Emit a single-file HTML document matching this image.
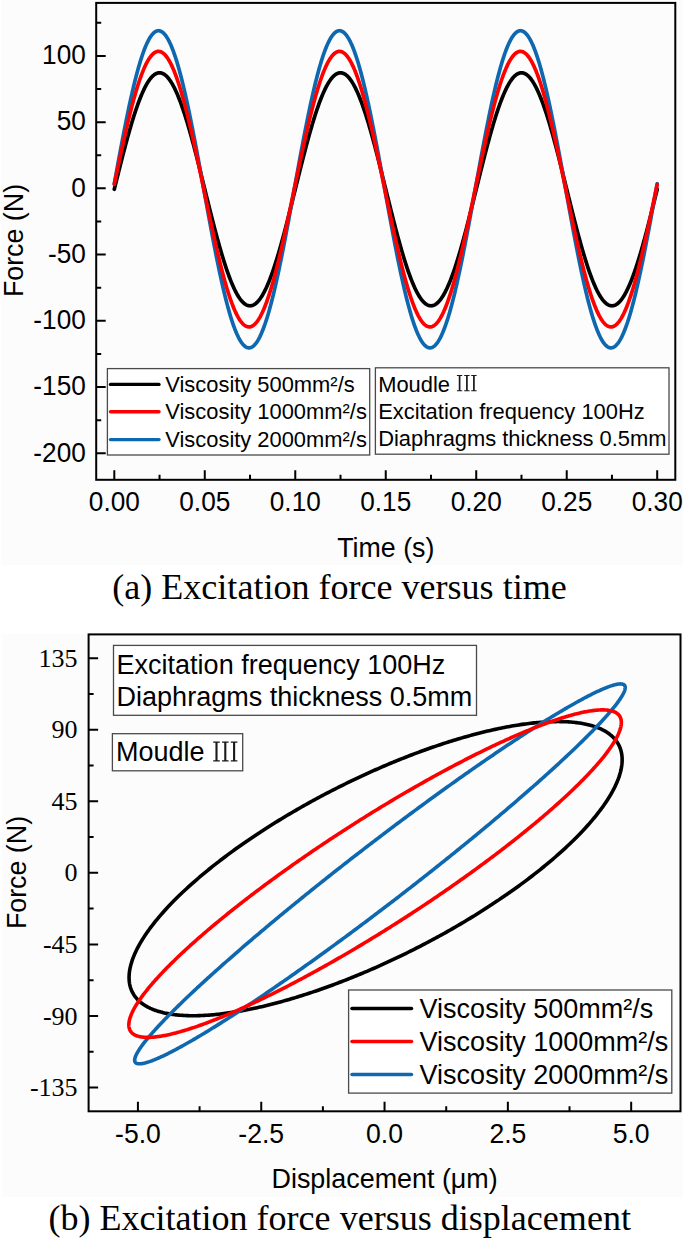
<!DOCTYPE html>
<html><head><meta charset="utf-8"><title>Excitation force</title>
<style>
html,body{margin:0;padding:0;background:#fff;}
body{width:685px;height:1240px;overflow:hidden;font-family:"Liberation Sans",sans-serif;}
svg{display:block;}
</style></head><body>
<svg width="685" height="1240" viewBox="0 0 685 1240">
<rect x="1" y="0" width="682" height="565" fill="#fcfcfc"/>
<rect x="2" y="634" width="681" height="563" fill="#fcfcfc"/>
<path d="M114.3,189.29 L114.9,186.85 L115.5,184.41 L116.11,181.97 L116.71,179.54 L117.31,177.11 L117.92,174.69 L118.52,172.27 L119.12,169.86 L119.73,167.46 L120.33,165.06 L120.93,162.68 L121.54,160.31 L122.14,157.96 L122.74,155.61 L123.35,153.29 L123.95,150.97 L124.55,148.68 L125.16,146.4 L125.76,144.14 L126.36,141.9 L126.96,139.68 L127.57,137.48 L128.17,135.31 L128.77,133.16 L129.38,131.03 L129.98,128.93 L130.58,126.86 L131.19,124.81 L131.79,122.79 L132.39,120.81 L133,118.85 L133.6,116.92 L134.2,115.02 L134.81,113.16 L135.41,111.33 L136.01,109.53 L136.62,107.77 L137.22,106.05 L137.82,104.36 L138.43,102.71 L139.03,101.09 L139.63,99.52 L140.24,97.98 L140.84,96.49 L141.44,95.03 L142.05,93.62 L142.65,92.25 L143.25,90.92 L143.86,89.63 L144.46,88.39 L145.06,87.19 L145.66,86.04 L146.27,84.93 L146.87,83.87 L147.47,82.85 L148.08,81.88 L148.68,80.96 L149.28,80.09 L149.89,79.26 L150.49,78.48 L151.09,77.75 L151.7,77.07 L152.3,76.44 L152.9,75.86 L153.51,75.33 L154.11,74.84 L154.71,74.41 L155.32,74.03 L155.92,73.7 L156.52,73.42 L157.13,73.19 L157.73,73.01 L158.33,72.88 L158.94,72.8 L159.54,72.78 L160.14,72.8 L160.75,72.88 L161.35,73.01 L161.95,73.19 L162.56,73.42 L163.16,73.7 L163.76,74.03 L164.36,74.41 L164.97,74.84 L165.57,75.33 L166.17,75.86 L166.78,76.44 L167.38,77.07 L167.98,77.75 L168.59,78.48 L169.19,79.26 L169.79,80.09 L170.4,80.96 L171,81.88 L171.6,82.85 L172.21,83.87 L172.81,84.93 L173.41,86.04 L174.02,87.19 L174.62,88.39 L175.22,89.63 L175.83,90.92 L176.43,92.25 L177.03,93.62 L177.64,95.03 L178.24,96.49 L178.84,97.98 L179.45,99.52 L180.05,101.09 L180.65,102.71 L181.26,104.36 L181.86,106.05 L182.46,107.77 L183.06,109.53 L183.67,111.33 L184.27,113.16 L184.87,115.02 L185.48,116.92 L186.08,118.85 L186.68,120.81 L187.29,122.79 L187.89,124.81 L188.49,126.86 L189.1,128.93 L189.7,131.03 L190.3,133.16 L190.91,135.31 L191.51,137.48 L192.11,139.68 L192.72,141.9 L193.32,144.14 L193.92,146.4 L194.53,148.68 L195.13,150.97 L195.73,153.29 L196.34,155.61 L196.94,157.96 L197.54,160.31 L198.15,162.68 L198.75,165.06 L199.35,167.46 L199.96,169.86 L200.56,172.27 L201.16,174.69 L201.77,177.11 L202.37,179.54 L202.97,181.97 L203.57,184.41 L204.18,186.85 L204.78,189.29 L205.38,191.73 L205.99,194.17 L206.59,196.6 L207.19,199.04 L207.8,201.47 L208.4,203.89 L209,206.31 L209.61,208.72 L210.21,211.12 L210.81,213.51 L211.42,215.89 L212.02,218.26 L212.62,220.62 L213.23,222.96 L213.83,225.29 L214.43,227.6 L215.04,229.9 L215.64,232.18 L216.24,234.44 L216.85,236.68 L217.45,238.9 L218.05,241.09 L218.66,243.27 L219.26,245.42 L219.86,247.54 L220.47,249.64 L221.07,251.72 L221.67,253.76 L222.27,255.78 L222.88,257.77 L223.48,259.73 L224.08,261.66 L224.69,263.55 L225.29,265.42 L225.89,267.25 L226.5,269.04 L227.1,270.81 L227.7,272.53 L228.31,274.22 L228.91,275.87 L229.51,277.49 L230.12,279.06 L230.72,280.6 L231.32,282.09 L231.93,283.55 L232.53,284.96 L233.13,286.33 L233.74,287.66 L234.34,288.95 L234.94,290.19 L235.55,291.39 L236.15,292.54 L236.75,293.65 L237.36,294.71 L237.96,295.72 L238.56,296.69 L239.17,297.62 L239.77,298.49 L240.37,299.32 L240.97,300.1 L241.58,300.83 L242.18,301.51 L242.78,302.14 L243.39,302.72 L243.99,303.25 L244.59,303.73 L245.2,304.17 L245.8,304.55 L246.4,304.88 L247.01,305.16 L247.61,305.39 L248.21,305.57 L248.82,305.7 L249.42,305.77 L250.02,305.8 L250.63,305.77 L251.23,305.7 L251.83,305.57 L252.44,305.39 L253.04,305.16 L253.64,304.88 L254.25,304.55 L254.85,304.17 L255.45,303.73 L256.06,303.25 L256.66,302.72 L257.26,302.14 L257.87,301.51 L258.47,300.83 L259.07,300.1 L259.68,299.32 L260.28,298.49 L260.88,297.62 L261.48,296.69 L262.09,295.72 L262.69,294.71 L263.29,293.65 L263.9,292.54 L264.5,291.39 L265.1,290.19 L265.71,288.95 L266.31,287.66 L266.91,286.33 L267.52,284.96 L268.12,283.55 L268.72,282.09 L269.33,280.6 L269.93,279.06 L270.53,277.49 L271.14,275.87 L271.74,274.22 L272.34,272.53 L272.95,270.81 L273.55,269.04 L274.15,267.25 L274.76,265.42 L275.36,263.55 L275.96,261.66 L276.57,259.73 L277.17,257.77 L277.77,255.78 L278.38,253.76 L278.98,251.72 L279.58,249.64 L280.18,247.54 L280.79,245.42 L281.39,243.27 L281.99,241.09 L282.6,238.9 L283.2,236.68 L283.8,234.44 L284.41,232.18 L285.01,229.9 L285.61,227.6 L286.22,225.29 L286.82,222.96 L287.42,220.62 L288.03,218.26 L288.63,215.89 L289.23,213.51 L289.84,211.12 L290.44,208.72 L291.04,206.31 L291.65,203.89 L292.25,201.47 L292.85,199.04 L293.46,196.6 L294.06,194.17 L294.66,191.73 L295.27,189.29 L295.87,186.85 L296.47,184.41 L297.08,181.97 L297.68,179.54 L298.28,177.11 L298.88,174.69 L299.49,172.27 L300.09,169.86 L300.69,167.46 L301.3,165.06 L301.9,162.68 L302.5,160.31 L303.11,157.96 L303.71,155.61 L304.31,153.29 L304.92,150.97 L305.52,148.68 L306.12,146.4 L306.73,144.14 L307.33,141.9 L307.93,139.68 L308.54,137.48 L309.14,135.31 L309.74,133.16 L310.35,131.03 L310.95,128.93 L311.55,126.86 L312.16,124.81 L312.76,122.79 L313.36,120.81 L313.97,118.85 L314.57,116.92 L315.17,115.02 L315.78,113.16 L316.38,111.33 L316.98,109.53 L317.59,107.77 L318.19,106.05 L318.79,104.36 L319.39,102.71 L320,101.09 L320.6,99.52 L321.2,97.98 L321.81,96.49 L322.41,95.03 L323.01,93.62 L323.62,92.25 L324.22,90.92 L324.82,89.63 L325.43,88.39 L326.03,87.19 L326.63,86.04 L327.24,84.93 L327.84,83.87 L328.44,82.85 L329.05,81.88 L329.65,80.96 L330.25,80.09 L330.86,79.26 L331.46,78.48 L332.06,77.75 L332.67,77.07 L333.27,76.44 L333.87,75.86 L334.48,75.33 L335.08,74.84 L335.68,74.41 L336.29,74.03 L336.89,73.7 L337.49,73.42 L338.09,73.19 L338.7,73.01 L339.3,72.88 L339.9,72.8 L340.51,72.78 L341.11,72.8 L341.71,72.88 L342.32,73.01 L342.92,73.19 L343.52,73.42 L344.13,73.7 L344.73,74.03 L345.33,74.41 L345.94,74.84 L346.54,75.33 L347.14,75.86 L347.75,76.44 L348.35,77.07 L348.95,77.75 L349.56,78.48 L350.16,79.26 L350.76,80.09 L351.37,80.96 L351.97,81.88 L352.57,82.85 L353.18,83.87 L353.78,84.93 L354.38,86.04 L354.99,87.19 L355.59,88.39 L356.19,89.63 L356.79,90.92 L357.4,92.25 L358,93.62 L358.6,95.03 L359.21,96.49 L359.81,97.98 L360.41,99.52 L361.02,101.09 L361.62,102.71 L362.22,104.36 L362.83,106.05 L363.43,107.77 L364.03,109.53 L364.64,111.33 L365.24,113.16 L365.84,115.02 L366.45,116.92 L367.05,118.85 L367.65,120.81 L368.26,122.79 L368.86,124.81 L369.46,126.86 L370.07,128.93 L370.67,131.03 L371.27,133.16 L371.88,135.31 L372.48,137.48 L373.08,139.68 L373.69,141.9 L374.29,144.14 L374.89,146.4 L375.5,148.68 L376.1,150.97 L376.7,153.29 L377.3,155.61 L377.91,157.96 L378.51,160.31 L379.11,162.68 L379.72,165.06 L380.32,167.46 L380.92,169.86 L381.53,172.27 L382.13,174.69 L382.73,177.11 L383.34,179.54 L383.94,181.97 L384.54,184.41 L385.15,186.85 L385.75,189.29 L386.35,191.73 L386.96,194.17 L387.56,196.6 L388.16,199.04 L388.77,201.47 L389.37,203.89 L389.97,206.31 L390.58,208.72 L391.18,211.12 L391.78,213.51 L392.39,215.89 L392.99,218.26 L393.59,220.62 L394.2,222.96 L394.8,225.29 L395.4,227.6 L396,229.9 L396.61,232.18 L397.21,234.44 L397.81,236.68 L398.42,238.9 L399.02,241.09 L399.62,243.27 L400.23,245.42 L400.83,247.54 L401.43,249.64 L402.04,251.72 L402.64,253.76 L403.24,255.78 L403.85,257.77 L404.45,259.73 L405.05,261.66 L405.66,263.55 L406.26,265.42 L406.86,267.25 L407.47,269.04 L408.07,270.81 L408.67,272.53 L409.28,274.22 L409.88,275.87 L410.48,277.49 L411.09,279.06 L411.69,280.6 L412.29,282.09 L412.9,283.55 L413.5,284.96 L414.1,286.33 L414.7,287.66 L415.31,288.95 L415.91,290.19 L416.51,291.39 L417.12,292.54 L417.72,293.65 L418.32,294.71 L418.93,295.72 L419.53,296.69 L420.13,297.62 L420.74,298.49 L421.34,299.32 L421.94,300.1 L422.55,300.83 L423.15,301.51 L423.75,302.14 L424.36,302.72 L424.96,303.25 L425.56,303.73 L426.17,304.17 L426.77,304.55 L427.37,304.88 L427.98,305.16 L428.58,305.39 L429.18,305.57 L429.79,305.7 L430.39,305.77 L430.99,305.8 L431.6,305.77 L432.2,305.7 L432.8,305.57 L433.41,305.39 L434.01,305.16 L434.61,304.88 L435.21,304.55 L435.82,304.17 L436.42,303.73 L437.02,303.25 L437.63,302.72 L438.23,302.14 L438.83,301.51 L439.44,300.83 L440.04,300.1 L440.64,299.32 L441.25,298.49 L441.85,297.62 L442.45,296.69 L443.06,295.72 L443.66,294.71 L444.26,293.65 L444.87,292.54 L445.47,291.39 L446.07,290.19 L446.68,288.95 L447.28,287.66 L447.88,286.33 L448.49,284.96 L449.09,283.55 L449.69,282.09 L450.3,280.6 L450.9,279.06 L451.5,277.49 L452.11,275.87 L452.71,274.22 L453.31,272.53 L453.91,270.81 L454.52,269.04 L455.12,267.25 L455.72,265.42 L456.33,263.55 L456.93,261.66 L457.53,259.73 L458.14,257.77 L458.74,255.78 L459.34,253.76 L459.95,251.72 L460.55,249.64 L461.15,247.54 L461.76,245.42 L462.36,243.27 L462.96,241.09 L463.57,238.9 L464.17,236.68 L464.77,234.44 L465.38,232.18 L465.98,229.9 L466.58,227.6 L467.19,225.29 L467.79,222.96 L468.39,220.62 L469,218.26 L469.6,215.89 L470.2,213.51 L470.81,211.12 L471.41,208.72 L472.01,206.31 L472.61,203.89 L473.22,201.47 L473.82,199.04 L474.42,196.6 L475.03,194.17 L475.63,191.73 L476.23,189.29 L476.84,186.85 L477.44,184.41 L478.04,181.97 L478.65,179.54 L479.25,177.11 L479.85,174.69 L480.46,172.27 L481.06,169.86 L481.66,167.46 L482.27,165.06 L482.87,162.68 L483.47,160.31 L484.08,157.96 L484.68,155.61 L485.28,153.29 L485.89,150.97 L486.49,148.68 L487.09,146.4 L487.7,144.14 L488.3,141.9 L488.9,139.68 L489.51,137.48 L490.11,135.31 L490.71,133.16 L491.32,131.03 L491.92,128.93 L492.52,126.86 L493.12,124.81 L493.73,122.79 L494.33,120.81 L494.93,118.85 L495.54,116.92 L496.14,115.02 L496.74,113.16 L497.35,111.33 L497.95,109.53 L498.55,107.77 L499.16,106.05 L499.76,104.36 L500.36,102.71 L500.97,101.09 L501.57,99.52 L502.17,97.98 L502.78,96.49 L503.38,95.03 L503.98,93.62 L504.59,92.25 L505.19,90.92 L505.79,89.63 L506.4,88.39 L507,87.19 L507.6,86.04 L508.21,84.93 L508.81,83.87 L509.41,82.85 L510.02,81.88 L510.62,80.96 L511.22,80.09 L511.82,79.26 L512.43,78.48 L513.03,77.75 L513.63,77.07 L514.24,76.44 L514.84,75.86 L515.44,75.33 L516.05,74.84 L516.65,74.41 L517.25,74.03 L517.86,73.7 L518.46,73.42 L519.06,73.19 L519.67,73.01 L520.27,72.88 L520.87,72.8 L521.48,72.78 L522.08,72.8 L522.68,72.88 L523.29,73.01 L523.89,73.19 L524.49,73.42 L525.1,73.7 L525.7,74.03 L526.3,74.41 L526.91,74.84 L527.51,75.33 L528.11,75.86 L528.72,76.44 L529.32,77.07 L529.92,77.75 L530.52,78.48 L531.13,79.26 L531.73,80.09 L532.33,80.96 L532.94,81.88 L533.54,82.85 L534.14,83.87 L534.75,84.93 L535.35,86.04 L535.95,87.19 L536.56,88.39 L537.16,89.63 L537.76,90.92 L538.37,92.25 L538.97,93.62 L539.57,95.03 L540.18,96.49 L540.78,97.98 L541.38,99.52 L541.99,101.09 L542.59,102.71 L543.19,104.36 L543.8,106.05 L544.4,107.77 L545,109.53 L545.61,111.33 L546.21,113.16 L546.81,115.02 L547.42,116.92 L548.02,118.85 L548.62,120.81 L549.23,122.79 L549.83,124.81 L550.43,126.86 L551.03,128.93 L551.64,131.03 L552.24,133.16 L552.84,135.31 L553.45,137.48 L554.05,139.68 L554.65,141.9 L555.26,144.14 L555.86,146.4 L556.46,148.68 L557.07,150.97 L557.67,153.29 L558.27,155.61 L558.88,157.96 L559.48,160.31 L560.08,162.68 L560.69,165.06 L561.29,167.46 L561.89,169.86 L562.5,172.27 L563.1,174.69 L563.7,177.11 L564.31,179.54 L564.91,181.97 L565.51,184.41 L566.12,186.85 L566.72,189.29 L567.32,191.73 L567.93,194.17 L568.53,196.6 L569.13,199.04 L569.73,201.47 L570.34,203.89 L570.94,206.31 L571.54,208.72 L572.15,211.12 L572.75,213.51 L573.35,215.89 L573.96,218.26 L574.56,220.62 L575.16,222.96 L575.77,225.29 L576.37,227.6 L576.97,229.9 L577.58,232.18 L578.18,234.44 L578.78,236.68 L579.39,238.9 L579.99,241.09 L580.59,243.27 L581.2,245.42 L581.8,247.54 L582.4,249.64 L583.01,251.72 L583.61,253.76 L584.21,255.78 L584.82,257.77 L585.42,259.73 L586.02,261.66 L586.63,263.55 L587.23,265.42 L587.83,267.25 L588.43,269.04 L589.04,270.81 L589.64,272.53 L590.24,274.22 L590.85,275.87 L591.45,277.49 L592.05,279.06 L592.66,280.6 L593.26,282.09 L593.86,283.55 L594.47,284.96 L595.07,286.33 L595.67,287.66 L596.28,288.95 L596.88,290.19 L597.48,291.39 L598.09,292.54 L598.69,293.65 L599.29,294.71 L599.9,295.72 L600.5,296.69 L601.1,297.62 L601.71,298.49 L602.31,299.32 L602.91,300.1 L603.52,300.83 L604.12,301.51 L604.72,302.14 L605.33,302.72 L605.93,303.25 L606.53,303.73 L607.14,304.17 L607.74,304.55 L608.34,304.88 L608.94,305.16 L609.55,305.39 L610.15,305.57 L610.75,305.7 L611.36,305.77 L611.96,305.8 L612.56,305.77 L613.17,305.7 L613.77,305.57 L614.37,305.39 L614.98,305.16 L615.58,304.88 L616.18,304.55 L616.79,304.17 L617.39,303.73 L617.99,303.25 L618.6,302.72 L619.2,302.14 L619.8,301.51 L620.41,300.83 L621.01,300.1 L621.61,299.32 L622.22,298.49 L622.82,297.62 L623.42,296.69 L624.03,295.72 L624.63,294.71 L625.23,293.65 L625.84,292.54 L626.44,291.39 L627.04,290.19 L627.64,288.95 L628.25,287.66 L628.85,286.33 L629.45,284.96 L630.06,283.55 L630.66,282.09 L631.26,280.6 L631.87,279.06 L632.47,277.49 L633.07,275.87 L633.68,274.22 L634.28,272.53 L634.88,270.81 L635.49,269.04 L636.09,267.25 L636.69,265.42 L637.3,263.55 L637.9,261.66 L638.5,259.73 L639.11,257.77 L639.71,255.78 L640.31,253.76 L640.92,251.72 L641.52,249.64 L642.12,247.54 L642.73,245.42 L643.33,243.27 L643.93,241.09 L644.54,238.9 L645.14,236.68 L645.74,234.44 L646.34,232.18 L646.95,229.9 L647.55,227.6 L648.15,225.29 L648.76,222.96 L649.36,220.62 L649.96,218.26 L650.57,215.89 L651.17,213.51 L651.77,211.12 L652.38,208.72 L652.98,206.31 L653.58,203.89 L654.19,201.47 L654.79,199.04 L655.39,196.6 L656,194.17 L656.6,191.73 L657.2,189.29" fill="none" stroke="#000000" stroke-width="3.7" stroke-linejoin="round" stroke-linecap="round"/>
<path d="M114.3,183.74 L114.9,180.42 L115.5,177.11 L116.11,173.8 L116.71,170.5 L117.31,167.21 L117.92,163.92 L118.52,160.65 L119.12,157.39 L119.73,154.14 L120.33,150.91 L120.93,147.7 L121.54,144.5 L122.14,141.33 L122.74,138.17 L123.35,135.04 L123.95,131.93 L124.55,128.85 L125.16,125.79 L125.76,122.76 L126.36,119.76 L126.96,116.79 L127.57,113.86 L128.17,110.95 L128.77,108.08 L129.38,105.25 L129.98,102.45 L130.58,99.69 L131.19,96.97 L131.79,94.29 L132.39,91.65 L133,89.06 L133.6,86.51 L134.2,84 L134.81,81.54 L135.41,79.13 L136.01,76.76 L136.62,74.45 L137.22,72.18 L137.82,69.97 L138.43,67.81 L139.03,65.7 L139.63,63.65 L140.24,61.65 L140.84,59.71 L141.44,57.82 L142.05,55.99 L142.65,54.22 L143.25,52.51 L143.86,50.86 L144.46,49.27 L145.06,47.75 L145.66,46.28 L146.27,44.88 L146.87,43.54 L147.47,42.26 L148.08,41.05 L148.68,39.9 L149.28,38.82 L149.89,37.81 L150.49,36.86 L151.09,35.98 L151.7,35.16 L152.3,34.42 L152.9,33.74 L153.51,33.13 L154.11,32.58 L154.71,32.11 L155.32,31.71 L155.92,31.37 L156.52,31.1 L157.13,30.91 L157.73,30.78 L158.33,30.72 L158.94,30.73 L159.54,30.82 L160.14,30.97 L160.75,31.19 L161.35,31.48 L161.95,31.84 L162.56,32.26 L163.16,32.76 L163.76,33.33 L164.36,33.96 L164.97,34.66 L165.57,35.43 L166.17,36.27 L166.78,37.17 L167.38,38.15 L167.98,39.18 L168.59,40.29 L169.19,41.46 L169.79,42.69 L170.4,43.99 L171,45.35 L171.6,46.77 L172.21,48.26 L172.81,49.81 L173.41,51.42 L174.02,53.09 L174.62,54.82 L175.22,56.61 L175.83,58.46 L176.43,60.36 L177.03,62.33 L177.64,64.34 L178.24,66.42 L178.84,68.54 L179.45,70.72 L180.05,72.95 L180.65,75.23 L181.26,77.57 L181.86,79.95 L182.46,82.38 L183.06,84.85 L183.67,87.37 L184.27,89.94 L184.87,92.55 L185.48,95.2 L186.08,97.9 L186.68,100.63 L187.29,103.4 L187.89,106.21 L188.49,109.06 L189.1,111.94 L189.7,114.86 L190.3,117.81 L190.91,120.79 L191.51,123.8 L192.11,126.83 L192.72,129.9 L193.32,132.99 L193.92,136.11 L194.53,139.25 L195.13,142.41 L195.73,145.6 L196.34,148.8 L196.94,152.02 L197.54,155.25 L198.15,158.5 L198.75,161.77 L199.35,165.04 L199.96,168.33 L200.56,171.63 L201.16,174.93 L201.77,178.24 L202.37,181.56 L202.97,184.88 L203.57,188.2 L204.18,191.52 L204.78,194.84 L205.38,198.15 L205.99,201.47 L206.59,204.78 L207.19,208.08 L207.8,211.37 L208.4,214.66 L209,217.93 L209.61,221.19 L210.21,224.43 L210.81,227.66 L211.42,230.88 L212.02,234.07 L212.62,237.25 L213.23,240.4 L213.83,243.54 L214.43,246.64 L215.04,249.73 L215.64,252.79 L216.24,255.81 L216.85,258.81 L217.45,261.78 L218.05,264.72 L218.66,267.63 L219.26,270.5 L219.86,273.33 L220.47,276.13 L221.07,278.89 L221.67,281.61 L222.27,284.29 L222.88,286.93 L223.48,289.52 L224.08,292.07 L224.69,294.58 L225.29,297.04 L225.89,299.45 L226.5,301.81 L227.1,304.13 L227.7,306.39 L228.31,308.61 L228.91,310.77 L229.51,312.88 L230.12,314.93 L230.72,316.93 L231.32,318.87 L231.93,320.76 L232.53,322.58 L233.13,324.35 L233.74,326.06 L234.34,327.71 L234.94,329.3 L235.55,330.83 L236.15,332.3 L236.75,333.7 L237.36,335.04 L237.96,336.32 L238.56,337.53 L239.17,338.67 L239.77,339.76 L240.37,340.77 L240.97,341.72 L241.58,342.6 L242.18,343.42 L242.78,344.16 L243.39,344.84 L243.99,345.45 L244.59,345.99 L245.2,346.47 L245.8,346.87 L246.4,347.21 L247.01,347.47 L247.61,347.67 L248.21,347.8 L248.82,347.85 L249.42,347.84 L250.02,347.76 L250.63,347.61 L251.23,347.39 L251.83,347.1 L252.44,346.74 L253.04,346.31 L253.64,345.82 L254.25,345.25 L254.85,344.62 L255.45,343.91 L256.06,343.14 L256.66,342.31 L257.26,341.4 L257.87,340.43 L258.47,339.39 L259.07,338.29 L259.68,337.12 L260.28,335.89 L260.88,334.59 L261.48,333.23 L262.09,331.8 L262.69,330.32 L263.29,328.77 L263.9,327.16 L264.5,325.49 L265.1,323.75 L265.71,321.97 L266.31,320.12 L266.91,318.21 L267.52,316.25 L268.12,314.23 L268.72,312.16 L269.33,310.04 L269.93,307.86 L270.53,305.63 L271.14,303.34 L271.74,301.01 L272.34,298.63 L272.95,296.2 L273.55,293.73 L274.15,291.2 L274.76,288.64 L275.36,286.03 L275.96,283.37 L276.57,280.68 L277.17,277.95 L277.77,275.17 L278.38,272.36 L278.98,269.52 L279.58,266.64 L280.18,263.72 L280.79,260.77 L281.39,257.79 L281.99,254.78 L282.6,251.74 L283.2,248.68 L283.8,245.58 L284.41,242.47 L285.01,239.33 L285.61,236.16 L286.22,232.98 L286.82,229.78 L287.42,226.56 L288.03,223.32 L288.63,220.07 L289.23,216.81 L289.84,213.53 L290.44,210.25 L291.04,206.95 L291.65,203.65 L292.25,200.33 L292.85,197.02 L293.46,193.7 L294.06,190.38 L294.66,187.06 L295.27,183.74 L295.87,180.42 L296.47,177.11 L297.08,173.8 L297.68,170.5 L298.28,167.21 L298.88,163.92 L299.49,160.65 L300.09,157.39 L300.69,154.14 L301.3,150.91 L301.9,147.7 L302.5,144.5 L303.11,141.33 L303.71,138.17 L304.31,135.04 L304.92,131.93 L305.52,128.85 L306.12,125.79 L306.73,122.76 L307.33,119.76 L307.93,116.79 L308.54,113.86 L309.14,110.95 L309.74,108.08 L310.35,105.25 L310.95,102.45 L311.55,99.69 L312.16,96.97 L312.76,94.29 L313.36,91.65 L313.97,89.06 L314.57,86.51 L315.17,84 L315.78,81.54 L316.38,79.13 L316.98,76.76 L317.59,74.45 L318.19,72.18 L318.79,69.97 L319.39,67.81 L320,65.7 L320.6,63.65 L321.2,61.65 L321.81,59.71 L322.41,57.82 L323.01,55.99 L323.62,54.22 L324.22,52.51 L324.82,50.86 L325.43,49.27 L326.03,47.75 L326.63,46.28 L327.24,44.88 L327.84,43.54 L328.44,42.26 L329.05,41.05 L329.65,39.9 L330.25,38.82 L330.86,37.81 L331.46,36.86 L332.06,35.98 L332.67,35.16 L333.27,34.42 L333.87,33.74 L334.48,33.13 L335.08,32.58 L335.68,32.11 L336.29,31.71 L336.89,31.37 L337.49,31.1 L338.09,30.91 L338.7,30.78 L339.3,30.72 L339.9,30.73 L340.51,30.82 L341.11,30.97 L341.71,31.19 L342.32,31.48 L342.92,31.84 L343.52,32.26 L344.13,32.76 L344.73,33.33 L345.33,33.96 L345.94,34.66 L346.54,35.43 L347.14,36.27 L347.75,37.17 L348.35,38.15 L348.95,39.18 L349.56,40.29 L350.16,41.46 L350.76,42.69 L351.37,43.99 L351.97,45.35 L352.57,46.77 L353.18,48.26 L353.78,49.81 L354.38,51.42 L354.99,53.09 L355.59,54.82 L356.19,56.61 L356.79,58.46 L357.4,60.36 L358,62.33 L358.6,64.34 L359.21,66.42 L359.81,68.54 L360.41,70.72 L361.02,72.95 L361.62,75.23 L362.22,77.57 L362.83,79.95 L363.43,82.38 L364.03,84.85 L364.64,87.37 L365.24,89.94 L365.84,92.55 L366.45,95.2 L367.05,97.9 L367.65,100.63 L368.26,103.4 L368.86,106.21 L369.46,109.06 L370.07,111.94 L370.67,114.86 L371.27,117.81 L371.88,120.79 L372.48,123.8 L373.08,126.83 L373.69,129.9 L374.29,132.99 L374.89,136.11 L375.5,139.25 L376.1,142.41 L376.7,145.6 L377.3,148.8 L377.91,152.02 L378.51,155.25 L379.11,158.5 L379.72,161.77 L380.32,165.04 L380.92,168.33 L381.53,171.63 L382.13,174.93 L382.73,178.24 L383.34,181.56 L383.94,184.88 L384.54,188.2 L385.15,191.52 L385.75,194.84 L386.35,198.15 L386.96,201.47 L387.56,204.78 L388.16,208.08 L388.77,211.37 L389.37,214.66 L389.97,217.93 L390.58,221.19 L391.18,224.43 L391.78,227.66 L392.39,230.88 L392.99,234.07 L393.59,237.25 L394.2,240.4 L394.8,243.54 L395.4,246.64 L396,249.73 L396.61,252.79 L397.21,255.81 L397.81,258.81 L398.42,261.78 L399.02,264.72 L399.62,267.63 L400.23,270.5 L400.83,273.33 L401.43,276.13 L402.04,278.89 L402.64,281.61 L403.24,284.29 L403.85,286.93 L404.45,289.52 L405.05,292.07 L405.66,294.58 L406.26,297.04 L406.86,299.45 L407.47,301.81 L408.07,304.13 L408.67,306.39 L409.28,308.61 L409.88,310.77 L410.48,312.88 L411.09,314.93 L411.69,316.93 L412.29,318.87 L412.9,320.76 L413.5,322.58 L414.1,324.35 L414.7,326.06 L415.31,327.71 L415.91,329.3 L416.51,330.83 L417.12,332.3 L417.72,333.7 L418.32,335.04 L418.93,336.32 L419.53,337.53 L420.13,338.67 L420.74,339.76 L421.34,340.77 L421.94,341.72 L422.55,342.6 L423.15,343.42 L423.75,344.16 L424.36,344.84 L424.96,345.45 L425.56,345.99 L426.17,346.47 L426.77,346.87 L427.37,347.21 L427.98,347.47 L428.58,347.67 L429.18,347.8 L429.79,347.85 L430.39,347.84 L430.99,347.76 L431.6,347.61 L432.2,347.39 L432.8,347.1 L433.41,346.74 L434.01,346.31 L434.61,345.82 L435.21,345.25 L435.82,344.62 L436.42,343.91 L437.02,343.14 L437.63,342.31 L438.23,341.4 L438.83,340.43 L439.44,339.39 L440.04,338.29 L440.64,337.12 L441.25,335.89 L441.85,334.59 L442.45,333.23 L443.06,331.8 L443.66,330.32 L444.26,328.77 L444.87,327.16 L445.47,325.49 L446.07,323.75 L446.68,321.97 L447.28,320.12 L447.88,318.21 L448.49,316.25 L449.09,314.23 L449.69,312.16 L450.3,310.04 L450.9,307.86 L451.5,305.63 L452.11,303.34 L452.71,301.01 L453.31,298.63 L453.91,296.2 L454.52,293.73 L455.12,291.2 L455.72,288.64 L456.33,286.03 L456.93,283.37 L457.53,280.68 L458.14,277.95 L458.74,275.17 L459.34,272.36 L459.95,269.52 L460.55,266.64 L461.15,263.72 L461.76,260.77 L462.36,257.79 L462.96,254.78 L463.57,251.74 L464.17,248.68 L464.77,245.58 L465.38,242.47 L465.98,239.33 L466.58,236.16 L467.19,232.98 L467.79,229.78 L468.39,226.56 L469,223.32 L469.6,220.07 L470.2,216.81 L470.81,213.53 L471.41,210.25 L472.01,206.95 L472.61,203.65 L473.22,200.33 L473.82,197.02 L474.42,193.7 L475.03,190.38 L475.63,187.06 L476.23,183.74 L476.84,180.42 L477.44,177.11 L478.04,173.8 L478.65,170.5 L479.25,167.21 L479.85,163.92 L480.46,160.65 L481.06,157.39 L481.66,154.14 L482.27,150.91 L482.87,147.7 L483.47,144.5 L484.08,141.33 L484.68,138.17 L485.28,135.04 L485.89,131.93 L486.49,128.85 L487.09,125.79 L487.7,122.76 L488.3,119.76 L488.9,116.79 L489.51,113.86 L490.11,110.95 L490.71,108.08 L491.32,105.25 L491.92,102.45 L492.52,99.69 L493.12,96.97 L493.73,94.29 L494.33,91.65 L494.93,89.06 L495.54,86.51 L496.14,84 L496.74,81.54 L497.35,79.13 L497.95,76.76 L498.55,74.45 L499.16,72.18 L499.76,69.97 L500.36,67.81 L500.97,65.7 L501.57,63.65 L502.17,61.65 L502.78,59.71 L503.38,57.82 L503.98,55.99 L504.59,54.22 L505.19,52.51 L505.79,50.86 L506.4,49.27 L507,47.75 L507.6,46.28 L508.21,44.88 L508.81,43.54 L509.41,42.26 L510.02,41.05 L510.62,39.9 L511.22,38.82 L511.82,37.81 L512.43,36.86 L513.03,35.98 L513.63,35.16 L514.24,34.42 L514.84,33.74 L515.44,33.13 L516.05,32.58 L516.65,32.11 L517.25,31.71 L517.86,31.37 L518.46,31.1 L519.06,30.91 L519.67,30.78 L520.27,30.72 L520.87,30.73 L521.48,30.82 L522.08,30.97 L522.68,31.19 L523.29,31.48 L523.89,31.84 L524.49,32.26 L525.1,32.76 L525.7,33.33 L526.3,33.96 L526.91,34.66 L527.51,35.43 L528.11,36.27 L528.72,37.17 L529.32,38.15 L529.92,39.18 L530.52,40.29 L531.13,41.46 L531.73,42.69 L532.33,43.99 L532.94,45.35 L533.54,46.77 L534.14,48.26 L534.75,49.81 L535.35,51.42 L535.95,53.09 L536.56,54.82 L537.16,56.61 L537.76,58.46 L538.37,60.36 L538.97,62.33 L539.57,64.34 L540.18,66.42 L540.78,68.54 L541.38,70.72 L541.99,72.95 L542.59,75.23 L543.19,77.57 L543.8,79.95 L544.4,82.38 L545,84.85 L545.61,87.37 L546.21,89.94 L546.81,92.55 L547.42,95.2 L548.02,97.9 L548.62,100.63 L549.23,103.4 L549.83,106.21 L550.43,109.06 L551.03,111.94 L551.64,114.86 L552.24,117.81 L552.84,120.79 L553.45,123.8 L554.05,126.83 L554.65,129.9 L555.26,132.99 L555.86,136.11 L556.46,139.25 L557.07,142.41 L557.67,145.6 L558.27,148.8 L558.88,152.02 L559.48,155.25 L560.08,158.5 L560.69,161.77 L561.29,165.04 L561.89,168.33 L562.5,171.63 L563.1,174.93 L563.7,178.24 L564.31,181.56 L564.91,184.88 L565.51,188.2 L566.12,191.52 L566.72,194.84 L567.32,198.15 L567.93,201.47 L568.53,204.78 L569.13,208.08 L569.73,211.37 L570.34,214.66 L570.94,217.93 L571.54,221.19 L572.15,224.43 L572.75,227.66 L573.35,230.88 L573.96,234.07 L574.56,237.25 L575.16,240.4 L575.77,243.54 L576.37,246.64 L576.97,249.73 L577.58,252.79 L578.18,255.81 L578.78,258.81 L579.39,261.78 L579.99,264.72 L580.59,267.63 L581.2,270.5 L581.8,273.33 L582.4,276.13 L583.01,278.89 L583.61,281.61 L584.21,284.29 L584.82,286.93 L585.42,289.52 L586.02,292.07 L586.63,294.58 L587.23,297.04 L587.83,299.45 L588.43,301.81 L589.04,304.13 L589.64,306.39 L590.24,308.61 L590.85,310.77 L591.45,312.88 L592.05,314.93 L592.66,316.93 L593.26,318.87 L593.86,320.76 L594.47,322.58 L595.07,324.35 L595.67,326.06 L596.28,327.71 L596.88,329.3 L597.48,330.83 L598.09,332.3 L598.69,333.7 L599.29,335.04 L599.9,336.32 L600.5,337.53 L601.1,338.67 L601.71,339.76 L602.31,340.77 L602.91,341.72 L603.52,342.6 L604.12,343.42 L604.72,344.16 L605.33,344.84 L605.93,345.45 L606.53,345.99 L607.14,346.47 L607.74,346.87 L608.34,347.21 L608.94,347.47 L609.55,347.67 L610.15,347.8 L610.75,347.85 L611.36,347.84 L611.96,347.76 L612.56,347.61 L613.17,347.39 L613.77,347.1 L614.37,346.74 L614.98,346.31 L615.58,345.82 L616.18,345.25 L616.79,344.62 L617.39,343.91 L617.99,343.14 L618.6,342.31 L619.2,341.4 L619.8,340.43 L620.41,339.39 L621.01,338.29 L621.61,337.12 L622.22,335.89 L622.82,334.59 L623.42,333.23 L624.03,331.8 L624.63,330.32 L625.23,328.77 L625.84,327.16 L626.44,325.49 L627.04,323.75 L627.64,321.97 L628.25,320.12 L628.85,318.21 L629.45,316.25 L630.06,314.23 L630.66,312.16 L631.26,310.04 L631.87,307.86 L632.47,305.63 L633.07,303.34 L633.68,301.01 L634.28,298.63 L634.88,296.2 L635.49,293.73 L636.09,291.2 L636.69,288.64 L637.3,286.03 L637.9,283.37 L638.5,280.68 L639.11,277.95 L639.71,275.17 L640.31,272.36 L640.92,269.52 L641.52,266.64 L642.12,263.72 L642.73,260.77 L643.33,257.79 L643.93,254.78 L644.54,251.74 L645.14,248.68 L645.74,245.58 L646.34,242.47 L646.95,239.33 L647.55,236.16 L648.15,232.98 L648.76,229.78 L649.36,226.56 L649.96,223.32 L650.57,220.07 L651.17,216.81 L651.77,213.53 L652.38,210.25 L652.98,206.95 L653.58,203.65 L654.19,200.33 L654.79,197.02 L655.39,193.7 L656,190.38 L656.6,187.06 L657.2,183.74" fill="none" stroke="#0e68b0" stroke-width="3.7" stroke-linejoin="round" stroke-linecap="round"/>
<path d="M114.3,184.33 L114.9,181.45 L115.5,178.57 L116.11,175.7 L116.71,172.83 L117.31,169.97 L117.92,167.12 L118.52,164.27 L119.12,161.44 L119.73,158.62 L120.33,155.81 L120.93,153.02 L121.54,150.25 L122.14,147.49 L122.74,144.74 L123.35,142.02 L123.95,139.32 L124.55,136.64 L125.16,133.99 L125.76,131.36 L126.36,128.75 L126.96,126.17 L127.57,123.62 L128.17,121.09 L128.77,118.6 L129.38,116.14 L129.98,113.71 L130.58,111.31 L131.19,108.95 L131.79,106.62 L132.39,104.33 L133,102.07 L133.6,99.85 L134.2,97.68 L134.81,95.54 L135.41,93.44 L136.01,91.39 L136.62,89.38 L137.22,87.41 L137.82,85.49 L138.43,83.61 L139.03,81.78 L139.63,79.99 L140.24,78.26 L140.84,76.57 L141.44,74.93 L142.05,73.34 L142.65,71.81 L143.25,70.32 L143.86,68.89 L144.46,67.51 L145.06,66.18 L145.66,64.9 L146.27,63.68 L146.87,62.52 L147.47,61.41 L148.08,60.36 L148.68,59.36 L149.28,58.42 L149.89,57.54 L150.49,56.72 L151.09,55.95 L151.7,55.24 L152.3,54.6 L152.9,54.01 L153.51,53.48 L154.11,53 L154.71,52.59 L155.32,52.24 L155.92,51.95 L156.52,51.72 L157.13,51.55 L157.73,51.44 L158.33,51.39 L158.94,51.4 L159.54,51.47 L160.14,51.6 L160.75,51.79 L161.35,52.04 L161.95,52.36 L162.56,52.73 L163.16,53.16 L163.76,53.65 L164.36,54.2 L164.97,54.81 L165.57,55.48 L166.17,56.21 L166.78,56.99 L167.38,57.84 L167.98,58.74 L168.59,59.7 L169.19,60.71 L169.79,61.79 L170.4,62.91 L171,64.1 L171.6,65.33 L172.21,66.63 L172.81,67.97 L173.41,69.37 L174.02,70.82 L174.62,72.33 L175.22,73.88 L175.83,75.49 L176.43,77.14 L177.03,78.85 L177.64,80.6 L178.24,82.4 L178.84,84.25 L179.45,86.14 L180.05,88.08 L180.65,90.06 L181.26,92.09 L181.86,94.16 L182.46,96.27 L183.06,98.42 L183.67,100.61 L184.27,102.84 L184.87,105.11 L185.48,107.41 L186.08,109.75 L186.68,112.13 L187.29,114.54 L187.89,116.98 L188.49,119.45 L189.1,121.95 L189.7,124.49 L190.3,127.05 L190.91,129.64 L191.51,132.25 L192.11,134.89 L192.72,137.56 L193.32,140.24 L193.92,142.95 L194.53,145.68 L195.13,148.43 L195.73,151.19 L196.34,153.98 L196.94,156.77 L197.54,159.58 L198.15,162.41 L198.75,165.24 L199.35,168.09 L199.96,170.95 L200.56,173.81 L201.16,176.68 L201.77,179.56 L202.37,182.44 L202.97,185.32 L203.57,188.21 L204.18,191.09 L204.78,193.98 L205.38,196.86 L205.99,199.74 L206.59,202.61 L207.19,205.48 L207.8,208.34 L208.4,211.2 L209,214.04 L209.61,216.87 L210.21,219.69 L210.81,222.5 L211.42,225.29 L212.02,228.07 L212.62,230.83 L213.23,233.57 L213.83,236.29 L214.43,238.99 L215.04,241.67 L215.64,244.32 L216.24,246.96 L216.85,249.56 L217.45,252.14 L218.05,254.69 L218.66,257.22 L219.26,259.71 L219.86,262.17 L220.47,264.61 L221.07,267 L221.67,269.37 L222.27,271.69 L222.88,273.99 L223.48,276.24 L224.08,278.46 L224.69,280.64 L225.29,282.77 L225.89,284.87 L226.5,286.92 L227.1,288.93 L227.7,290.9 L228.31,292.83 L228.91,294.7 L229.51,296.53 L230.12,298.32 L230.72,300.05 L231.32,301.74 L231.93,303.38 L232.53,304.97 L233.13,306.51 L233.74,307.99 L234.34,309.43 L234.94,310.81 L235.55,312.13 L236.15,313.41 L236.75,314.63 L237.36,315.79 L237.96,316.9 L238.56,317.95 L239.17,318.95 L239.77,319.89 L240.37,320.77 L240.97,321.59 L241.58,322.36 L242.18,323.07 L242.78,323.72 L243.39,324.31 L243.99,324.84 L244.59,325.31 L245.2,325.72 L245.8,326.07 L246.4,326.36 L247.01,326.59 L247.61,326.76 L248.21,326.87 L248.82,326.92 L249.42,326.91 L250.02,326.84 L250.63,326.71 L251.23,326.52 L251.83,326.27 L252.44,325.96 L253.04,325.58 L253.64,325.15 L254.25,324.66 L254.85,324.11 L255.45,323.5 L256.06,322.83 L256.66,322.1 L257.26,321.32 L257.87,320.47 L258.47,319.57 L259.07,318.61 L259.68,317.6 L260.28,316.53 L260.88,315.4 L261.48,314.22 L262.09,312.98 L262.69,311.69 L263.29,310.34 L263.9,308.94 L264.5,307.49 L265.1,305.99 L265.71,304.43 L266.31,302.83 L266.91,301.17 L267.52,299.47 L268.12,297.71 L268.72,295.91 L269.33,294.07 L269.93,292.17 L270.53,290.23 L271.14,288.25 L271.74,286.23 L272.34,284.16 L272.95,282.05 L273.55,279.89 L274.15,277.7 L274.76,275.47 L275.36,273.21 L275.96,270.9 L276.57,268.56 L277.17,266.19 L277.77,263.78 L278.38,261.34 L278.98,258.86 L279.58,256.36 L280.18,253.82 L280.79,251.26 L281.39,248.67 L281.99,246.06 L282.6,243.42 L283.2,240.75 L283.8,238.07 L284.41,235.36 L285.01,232.63 L285.61,229.88 L286.22,227.12 L286.82,224.34 L287.42,221.54 L288.03,218.73 L288.63,215.9 L289.23,213.07 L289.84,210.22 L290.44,207.36 L291.04,204.5 L291.65,201.63 L292.25,198.75 L292.85,195.87 L293.46,192.99 L294.06,190.1 L294.66,187.22 L295.27,184.33 L295.87,181.45 L296.47,178.57 L297.08,175.7 L297.68,172.83 L298.28,169.97 L298.88,167.12 L299.49,164.27 L300.09,161.44 L300.69,158.62 L301.3,155.81 L301.9,153.02 L302.5,150.25 L303.11,147.49 L303.71,144.74 L304.31,142.02 L304.92,139.32 L305.52,136.64 L306.12,133.99 L306.73,131.36 L307.33,128.75 L307.93,126.17 L308.54,123.62 L309.14,121.09 L309.74,118.6 L310.35,116.14 L310.95,113.71 L311.55,111.31 L312.16,108.95 L312.76,106.62 L313.36,104.33 L313.97,102.07 L314.57,99.85 L315.17,97.68 L315.78,95.54 L316.38,93.44 L316.98,91.39 L317.59,89.38 L318.19,87.41 L318.79,85.49 L319.39,83.61 L320,81.78 L320.6,79.99 L321.2,78.26 L321.81,76.57 L322.41,74.93 L323.01,73.34 L323.62,71.81 L324.22,70.32 L324.82,68.89 L325.43,67.51 L326.03,66.18 L326.63,64.9 L327.24,63.68 L327.84,62.52 L328.44,61.41 L329.05,60.36 L329.65,59.36 L330.25,58.42 L330.86,57.54 L331.46,56.72 L332.06,55.95 L332.67,55.24 L333.27,54.6 L333.87,54.01 L334.48,53.48 L335.08,53 L335.68,52.59 L336.29,52.24 L336.89,51.95 L337.49,51.72 L338.09,51.55 L338.7,51.44 L339.3,51.39 L339.9,51.4 L340.51,51.47 L341.11,51.6 L341.71,51.79 L342.32,52.04 L342.92,52.36 L343.52,52.73 L344.13,53.16 L344.73,53.65 L345.33,54.2 L345.94,54.81 L346.54,55.48 L347.14,56.21 L347.75,56.99 L348.35,57.84 L348.95,58.74 L349.56,59.7 L350.16,60.71 L350.76,61.79 L351.37,62.91 L351.97,64.1 L352.57,65.33 L353.18,66.63 L353.78,67.97 L354.38,69.37 L354.99,70.82 L355.59,72.33 L356.19,73.88 L356.79,75.49 L357.4,77.14 L358,78.85 L358.6,80.6 L359.21,82.4 L359.81,84.25 L360.41,86.14 L361.02,88.08 L361.62,90.06 L362.22,92.09 L362.83,94.16 L363.43,96.27 L364.03,98.42 L364.64,100.61 L365.24,102.84 L365.84,105.11 L366.45,107.41 L367.05,109.75 L367.65,112.13 L368.26,114.54 L368.86,116.98 L369.46,119.45 L370.07,121.95 L370.67,124.49 L371.27,127.05 L371.88,129.64 L372.48,132.25 L373.08,134.89 L373.69,137.56 L374.29,140.24 L374.89,142.95 L375.5,145.68 L376.1,148.43 L376.7,151.19 L377.3,153.98 L377.91,156.77 L378.51,159.58 L379.11,162.41 L379.72,165.24 L380.32,168.09 L380.92,170.95 L381.53,173.81 L382.13,176.68 L382.73,179.56 L383.34,182.44 L383.94,185.32 L384.54,188.21 L385.15,191.09 L385.75,193.98 L386.35,196.86 L386.96,199.74 L387.56,202.61 L388.16,205.48 L388.77,208.34 L389.37,211.2 L389.97,214.04 L390.58,216.87 L391.18,219.69 L391.78,222.5 L392.39,225.29 L392.99,228.07 L393.59,230.83 L394.2,233.57 L394.8,236.29 L395.4,238.99 L396,241.67 L396.61,244.32 L397.21,246.96 L397.81,249.56 L398.42,252.14 L399.02,254.69 L399.62,257.22 L400.23,259.71 L400.83,262.17 L401.43,264.61 L402.04,267 L402.64,269.37 L403.24,271.69 L403.85,273.99 L404.45,276.24 L405.05,278.46 L405.66,280.64 L406.26,282.77 L406.86,284.87 L407.47,286.92 L408.07,288.93 L408.67,290.9 L409.28,292.83 L409.88,294.7 L410.48,296.53 L411.09,298.32 L411.69,300.05 L412.29,301.74 L412.9,303.38 L413.5,304.97 L414.1,306.51 L414.7,307.99 L415.31,309.43 L415.91,310.81 L416.51,312.13 L417.12,313.41 L417.72,314.63 L418.32,315.79 L418.93,316.9 L419.53,317.95 L420.13,318.95 L420.74,319.89 L421.34,320.77 L421.94,321.59 L422.55,322.36 L423.15,323.07 L423.75,323.72 L424.36,324.31 L424.96,324.84 L425.56,325.31 L426.17,325.72 L426.77,326.07 L427.37,326.36 L427.98,326.59 L428.58,326.76 L429.18,326.87 L429.79,326.92 L430.39,326.91 L430.99,326.84 L431.6,326.71 L432.2,326.52 L432.8,326.27 L433.41,325.96 L434.01,325.58 L434.61,325.15 L435.21,324.66 L435.82,324.11 L436.42,323.5 L437.02,322.83 L437.63,322.1 L438.23,321.32 L438.83,320.47 L439.44,319.57 L440.04,318.61 L440.64,317.6 L441.25,316.53 L441.85,315.4 L442.45,314.22 L443.06,312.98 L443.66,311.69 L444.26,310.34 L444.87,308.94 L445.47,307.49 L446.07,305.99 L446.68,304.43 L447.28,302.83 L447.88,301.17 L448.49,299.47 L449.09,297.71 L449.69,295.91 L450.3,294.07 L450.9,292.17 L451.5,290.23 L452.11,288.25 L452.71,286.23 L453.31,284.16 L453.91,282.05 L454.52,279.89 L455.12,277.7 L455.72,275.47 L456.33,273.21 L456.93,270.9 L457.53,268.56 L458.14,266.19 L458.74,263.78 L459.34,261.34 L459.95,258.86 L460.55,256.36 L461.15,253.82 L461.76,251.26 L462.36,248.67 L462.96,246.06 L463.57,243.42 L464.17,240.75 L464.77,238.07 L465.38,235.36 L465.98,232.63 L466.58,229.88 L467.19,227.12 L467.79,224.34 L468.39,221.54 L469,218.73 L469.6,215.9 L470.2,213.07 L470.81,210.22 L471.41,207.36 L472.01,204.5 L472.61,201.63 L473.22,198.75 L473.82,195.87 L474.42,192.99 L475.03,190.1 L475.63,187.22 L476.23,184.33 L476.84,181.45 L477.44,178.57 L478.04,175.7 L478.65,172.83 L479.25,169.97 L479.85,167.12 L480.46,164.27 L481.06,161.44 L481.66,158.62 L482.27,155.81 L482.87,153.02 L483.47,150.25 L484.08,147.49 L484.68,144.74 L485.28,142.02 L485.89,139.32 L486.49,136.64 L487.09,133.99 L487.7,131.36 L488.3,128.75 L488.9,126.17 L489.51,123.62 L490.11,121.09 L490.71,118.6 L491.32,116.14 L491.92,113.71 L492.52,111.31 L493.12,108.95 L493.73,106.62 L494.33,104.33 L494.93,102.07 L495.54,99.85 L496.14,97.68 L496.74,95.54 L497.35,93.44 L497.95,91.39 L498.55,89.38 L499.16,87.41 L499.76,85.49 L500.36,83.61 L500.97,81.78 L501.57,79.99 L502.17,78.26 L502.78,76.57 L503.38,74.93 L503.98,73.34 L504.59,71.81 L505.19,70.32 L505.79,68.89 L506.4,67.51 L507,66.18 L507.6,64.9 L508.21,63.68 L508.81,62.52 L509.41,61.41 L510.02,60.36 L510.62,59.36 L511.22,58.42 L511.82,57.54 L512.43,56.72 L513.03,55.95 L513.63,55.24 L514.24,54.6 L514.84,54.01 L515.44,53.48 L516.05,53 L516.65,52.59 L517.25,52.24 L517.86,51.95 L518.46,51.72 L519.06,51.55 L519.67,51.44 L520.27,51.39 L520.87,51.4 L521.48,51.47 L522.08,51.6 L522.68,51.79 L523.29,52.04 L523.89,52.36 L524.49,52.73 L525.1,53.16 L525.7,53.65 L526.3,54.2 L526.91,54.81 L527.51,55.48 L528.11,56.21 L528.72,56.99 L529.32,57.84 L529.92,58.74 L530.52,59.7 L531.13,60.71 L531.73,61.79 L532.33,62.91 L532.94,64.1 L533.54,65.33 L534.14,66.63 L534.75,67.97 L535.35,69.37 L535.95,70.82 L536.56,72.33 L537.16,73.88 L537.76,75.49 L538.37,77.14 L538.97,78.85 L539.57,80.6 L540.18,82.4 L540.78,84.25 L541.38,86.14 L541.99,88.08 L542.59,90.06 L543.19,92.09 L543.8,94.16 L544.4,96.27 L545,98.42 L545.61,100.61 L546.21,102.84 L546.81,105.11 L547.42,107.41 L548.02,109.75 L548.62,112.13 L549.23,114.54 L549.83,116.98 L550.43,119.45 L551.03,121.95 L551.64,124.49 L552.24,127.05 L552.84,129.64 L553.45,132.25 L554.05,134.89 L554.65,137.56 L555.26,140.24 L555.86,142.95 L556.46,145.68 L557.07,148.43 L557.67,151.19 L558.27,153.98 L558.88,156.77 L559.48,159.58 L560.08,162.41 L560.69,165.24 L561.29,168.09 L561.89,170.95 L562.5,173.81 L563.1,176.68 L563.7,179.56 L564.31,182.44 L564.91,185.32 L565.51,188.21 L566.12,191.09 L566.72,193.98 L567.32,196.86 L567.93,199.74 L568.53,202.61 L569.13,205.48 L569.73,208.34 L570.34,211.2 L570.94,214.04 L571.54,216.87 L572.15,219.69 L572.75,222.5 L573.35,225.29 L573.96,228.07 L574.56,230.83 L575.16,233.57 L575.77,236.29 L576.37,238.99 L576.97,241.67 L577.58,244.32 L578.18,246.96 L578.78,249.56 L579.39,252.14 L579.99,254.69 L580.59,257.22 L581.2,259.71 L581.8,262.17 L582.4,264.61 L583.01,267 L583.61,269.37 L584.21,271.69 L584.82,273.99 L585.42,276.24 L586.02,278.46 L586.63,280.64 L587.23,282.77 L587.83,284.87 L588.43,286.92 L589.04,288.93 L589.64,290.9 L590.24,292.83 L590.85,294.7 L591.45,296.53 L592.05,298.32 L592.66,300.05 L593.26,301.74 L593.86,303.38 L594.47,304.97 L595.07,306.51 L595.67,307.99 L596.28,309.43 L596.88,310.81 L597.48,312.13 L598.09,313.41 L598.69,314.63 L599.29,315.79 L599.9,316.9 L600.5,317.95 L601.1,318.95 L601.71,319.89 L602.31,320.77 L602.91,321.59 L603.52,322.36 L604.12,323.07 L604.72,323.72 L605.33,324.31 L605.93,324.84 L606.53,325.31 L607.14,325.72 L607.74,326.07 L608.34,326.36 L608.94,326.59 L609.55,326.76 L610.15,326.87 L610.75,326.92 L611.36,326.91 L611.96,326.84 L612.56,326.71 L613.17,326.52 L613.77,326.27 L614.37,325.96 L614.98,325.58 L615.58,325.15 L616.18,324.66 L616.79,324.11 L617.39,323.5 L617.99,322.83 L618.6,322.1 L619.2,321.32 L619.8,320.47 L620.41,319.57 L621.01,318.61 L621.61,317.6 L622.22,316.53 L622.82,315.4 L623.42,314.22 L624.03,312.98 L624.63,311.69 L625.23,310.34 L625.84,308.94 L626.44,307.49 L627.04,305.99 L627.64,304.43 L628.25,302.83 L628.85,301.17 L629.45,299.47 L630.06,297.71 L630.66,295.91 L631.26,294.07 L631.87,292.17 L632.47,290.23 L633.07,288.25 L633.68,286.23 L634.28,284.16 L634.88,282.05 L635.49,279.89 L636.09,277.7 L636.69,275.47 L637.3,273.21 L637.9,270.9 L638.5,268.56 L639.11,266.19 L639.71,263.78 L640.31,261.34 L640.92,258.86 L641.52,256.36 L642.12,253.82 L642.73,251.26 L643.33,248.67 L643.93,246.06 L644.54,243.42 L645.14,240.75 L645.74,238.07 L646.34,235.36 L646.95,232.63 L647.55,229.88 L648.15,227.12 L648.76,224.34 L649.36,221.54 L649.96,218.73 L650.57,215.9 L651.17,213.07 L651.77,210.22 L652.38,207.36 L652.98,204.5 L653.58,201.63 L654.19,198.75 L654.79,195.87 L655.39,192.99 L656,190.1 L656.6,187.22 L657.2,184.33" fill="none" stroke="#ff0000" stroke-width="3.7" stroke-linejoin="round" stroke-linecap="round"/>
<rect x="96.2" y="2.9" width="579.1" height="476.9" fill="none" stroke="#000" stroke-width="2"/>
<path d="M96.2,453.31 h9.5 M96.2,420.19 h5 M96.2,387.07 h9.5 M96.2,353.95 h5 M96.2,320.83 h9.5 M96.2,287.72 h5 M96.2,254.6 h9.5 M96.2,221.48 h5 M96.2,188.36 h9.5 M96.2,155.24 h5 M96.2,122.13 h9.5 M96.2,89.01 h5 M96.2,55.89 h9.5 M96.2,22.77 h5 M114.3,479.8 v-9.5 M159.54,479.8 v-5 M204.78,479.8 v-9.5 M250.02,479.8 v-5 M295.27,479.8 v-9.5 M340.51,479.8 v-5 M385.75,479.8 v-9.5 M430.99,479.8 v-5 M476.23,479.8 v-9.5 M521.48,479.8 v-5 M566.72,479.8 v-9.5 M611.96,479.8 v-5 M657.2,479.8 v-9.5" stroke="#000" stroke-width="2" fill="none"/>
<text transform="translate(85.8,461.51) scale(1,1.035)" text-anchor="end" style="font-family:&quot;Liberation Sans&quot;,sans-serif;font-size:26.2px">-200</text>
<text transform="translate(85.8,395.27) scale(1,1.035)" text-anchor="end" style="font-family:&quot;Liberation Sans&quot;,sans-serif;font-size:26.2px">-150</text>
<text transform="translate(85.8,329.03) scale(1,1.035)" text-anchor="end" style="font-family:&quot;Liberation Sans&quot;,sans-serif;font-size:26.2px">-100</text>
<text transform="translate(85.8,262.8) scale(1,1.035)" text-anchor="end" style="font-family:&quot;Liberation Sans&quot;,sans-serif;font-size:26.2px">-50</text>
<text transform="translate(85.8,196.56) scale(1,1.035)" text-anchor="end" style="font-family:&quot;Liberation Sans&quot;,sans-serif;font-size:26.2px">0</text>
<text transform="translate(85.8,130.33) scale(1,1.035)" text-anchor="end" style="font-family:&quot;Liberation Sans&quot;,sans-serif;font-size:26.2px">50</text>
<text transform="translate(85.8,64.09) scale(1,1.035)" text-anchor="end" style="font-family:&quot;Liberation Sans&quot;,sans-serif;font-size:26.2px">100</text>
<text transform="translate(114.3,511.2) scale(1,1.035)" text-anchor="middle" style="font-family:&quot;Liberation Sans&quot;,sans-serif;font-size:26.2px">0.00</text>
<text transform="translate(204.78,511.2) scale(1,1.035)" text-anchor="middle" style="font-family:&quot;Liberation Sans&quot;,sans-serif;font-size:26.2px">0.05</text>
<text transform="translate(295.27,511.2) scale(1,1.035)" text-anchor="middle" style="font-family:&quot;Liberation Sans&quot;,sans-serif;font-size:26.2px">0.10</text>
<text transform="translate(385.75,511.2) scale(1,1.035)" text-anchor="middle" style="font-family:&quot;Liberation Sans&quot;,sans-serif;font-size:26.2px">0.15</text>
<text transform="translate(476.23,511.2) scale(1,1.035)" text-anchor="middle" style="font-family:&quot;Liberation Sans&quot;,sans-serif;font-size:26.2px">0.20</text>
<text transform="translate(566.72,511.2) scale(1,1.035)" text-anchor="middle" style="font-family:&quot;Liberation Sans&quot;,sans-serif;font-size:26.2px">0.25</text>
<text transform="translate(657.2,511.2) scale(1,1.035)" text-anchor="middle" style="font-family:&quot;Liberation Sans&quot;,sans-serif;font-size:26.2px">0.30</text>
<text transform="translate(385.8,556.7) scale(1,1.02)" text-anchor="middle" style="font-family:&quot;Liberation Sans&quot;,sans-serif;font-size:26.8px">Time (s)</text>
<text transform="translate(23.3,240.5) rotate(-90)" text-anchor="middle" style="font-family:&quot;Liberation Sans&quot;,sans-serif;font-size:26.8px">Force (N)</text>
<rect x="107.4" y="368.6" width="262.3" height="86.4" fill="#fff" stroke="#4a4a4a" stroke-width="1.3"/>
<line x1="110.5" x2="159" y1="384.4" y2="384.4" stroke="#000000" stroke-width="3.4" stroke-linecap="round"/>
<text x="165.3" y="392.1" style="font-family:&quot;Liberation Sans&quot;,sans-serif;font-size:21.9px">Viscosity 500mm²/s</text>
<line x1="110.5" x2="159" y1="411.8" y2="411.8" stroke="#ff0000" stroke-width="3.4" stroke-linecap="round"/>
<text x="165.3" y="419.4" style="font-family:&quot;Liberation Sans&quot;,sans-serif;font-size:21.9px">Viscosity 1000mm²/s</text>
<line x1="110.5" x2="159" y1="439.6" y2="439.6" stroke="#0e68b0" stroke-width="3.4" stroke-linecap="round"/>
<text x="165.3" y="446.6" style="font-family:&quot;Liberation Sans&quot;,sans-serif;font-size:21.9px">Viscosity 2000mm²/s</text>
<rect x="375.4" y="367.8" width="293.6" height="86.4" fill="#fff" stroke="#4a4a4a" stroke-width="1.3"/>
<text x="378.2" y="392" style="font-family:&quot;Liberation Sans&quot;,sans-serif;font-size:21.9px">Moudle</text>
<path d="M456.9,375 h5.4 v1 h-1.85 v14.2 h1.85 v1 h-5.4 v-1 h1.85 v-14.2 h-1.85 Z M464.2,375 h5.4 v1 h-1.85 v14.2 h1.85 v1 h-5.4 v-1 h1.85 v-14.2 h-1.85 Z M471.2,375 h5.4 v1 h-1.85 v14.2 h1.85 v1 h-5.4 v-1 h1.85 v-14.2 h-1.85 Z" fill="#1a1a1a"/>
<text x="378.2" y="419.4" style="font-family:&quot;Liberation Sans&quot;,sans-serif;font-size:21.9px">Excitation frequency 100Hz</text>
<text x="378.2" y="446.4" style="font-family:&quot;Liberation Sans&quot;,sans-serif;font-size:21.9px">Diaphragms thickness 0.5mm</text>
<text x="112.3" y="598.6" style="font-family:&quot;Liberation Serif&quot;,serif;font-size:36.05px">(a) Excitation force versus time</text>
<path d="M375.6,769.74 L377.76,768.8 L379.91,767.86 L382.06,766.93 L384.21,766 L386.36,765.09 L388.51,764.18 L390.66,763.28 L392.8,762.39 L394.95,761.51 L397.09,760.63 L399.23,759.76 L401.37,758.9 L403.51,758.05 L405.65,757.21 L407.78,756.38 L409.92,755.55 L412.04,754.74 L414.17,753.93 L416.29,753.13 L418.42,752.34 L420.53,751.56 L422.65,750.79 L424.76,750.02 L426.86,749.27 L428.96,748.52 L431.06,747.79 L433.16,747.06 L435.25,746.34 L437.33,745.64 L439.41,744.94 L441.49,744.25 L443.56,743.57 L445.62,742.9 L447.68,742.24 L449.74,741.58 L451.79,740.94 L453.83,740.31 L455.87,739.69 L457.9,739.08 L459.92,738.47 L461.94,737.88 L463.96,737.3 L465.96,736.73 L467.96,736.16 L469.95,735.61 L471.93,735.07 L473.91,734.54 L475.88,734.02 L477.84,733.5 L479.8,733 L481.74,732.51 L483.68,732.03 L485.61,731.56 L487.53,731.1 L489.44,730.65 L491.35,730.21 L493.24,729.78 L495.13,729.37 L497,728.96 L498.87,728.56 L500.73,728.18 L502.58,727.8 L504.42,727.44 L506.25,727.08 L508.07,726.74 L509.88,726.41 L511.68,726.09 L513.47,725.78 L515.24,725.48 L517.01,725.19 L518.77,724.91 L520.51,724.65 L522.25,724.39 L523.97,724.15 L525.69,723.91 L527.39,723.69 L529.08,723.48 L530.75,723.28 L532.42,723.09 L534.07,722.91 L535.72,722.74 L537.35,722.58 L538.96,722.44 L540.57,722.31 L542.16,722.18 L543.74,722.07 L545.31,721.97 L546.86,721.88 L548.4,721.8 L549.93,721.74 L551.45,721.68 L552.95,721.64 L554.44,721.6 L555.91,721.58 L557.37,721.57 L558.82,721.57 L560.25,721.58 L561.67,721.6 L563.07,721.64 L564.46,721.68 L565.84,721.74 L567.2,721.8 L568.55,721.88 L569.88,721.97 L571.19,722.07 L572.5,722.19 L573.78,722.31 L575.06,722.44 L576.31,722.59 L577.56,722.75 L578.78,722.91 L579.99,723.09 L581.19,723.28 L582.37,723.48 L583.53,723.69 L584.68,723.92 L585.81,724.15 L586.93,724.4 L588.03,724.65 L589.11,724.92 L590.18,725.2 L591.23,725.49 L592.26,725.79 L593.28,726.1 L594.28,726.42 L595.27,726.75 L596.24,727.09 L597.19,727.45 L598.12,727.81 L599.04,728.19 L599.94,728.57 L600.83,728.97 L601.69,729.38 L602.54,729.8 L603.37,730.23 L604.19,730.66 L604.99,731.11 L605.77,731.57 L606.53,732.04 L607.27,732.53 L608,733.02 L608.71,733.52 L609.4,734.03 L610.07,734.55 L610.73,735.08 L611.37,735.63 L611.99,736.18 L612.59,736.74 L613.17,737.32 L613.74,737.9 L614.29,738.49 L614.82,739.09 L615.33,739.71 L615.82,740.33 L616.3,740.96 L616.75,741.6 L617.19,742.25 L617.61,742.92 L618.01,743.59 L618.4,744.27 L618.76,744.96 L619.11,745.66 L619.43,746.36 L619.74,747.08 L620.03,747.81 L620.3,748.55 L620.56,749.29 L620.79,750.05 L621.01,750.81 L621.2,751.58 L621.38,752.36 L621.54,753.15 L621.68,753.95 L621.8,754.76 L621.91,755.58 L621.99,756.4 L622.06,757.24 L622.1,758.08 L622.13,758.93 L622.14,759.79 L622.13,760.65 L622.1,761.53 L622.06,762.41 L621.99,763.31 L621.91,764.2 L621.8,765.11 L621.68,766.03 L621.54,766.95 L621.38,767.88 L621.2,768.82 L621.01,769.77 L620.79,770.72 L620.56,771.68 L620.3,772.65 L620.03,773.63 L619.74,774.61 L619.43,775.6 L619.11,776.6 L618.76,777.6 L618.4,778.62 L618.01,779.63 L617.61,780.66 L617.19,781.69 L616.75,782.73 L616.3,783.77 L615.82,784.83 L615.33,785.88 L614.82,786.95 L614.29,788.02 L613.74,789.09 L613.17,790.18 L612.59,791.27 L611.99,792.36 L611.37,793.46 L610.73,794.57 L610.07,795.68 L609.4,796.79 L608.71,797.92 L608,799.05 L607.27,800.18 L606.53,801.32 L605.77,802.46 L604.99,803.61 L604.19,804.76 L603.37,805.92 L602.54,807.08 L601.69,808.25 L600.83,809.43 L599.94,810.6 L599.04,811.78 L598.12,812.97 L597.19,814.16 L596.24,815.35 L595.27,816.55 L594.28,817.75 L593.28,818.96 L592.26,820.17 L591.23,821.38 L590.18,822.6 L589.11,823.82 L588.03,825.05 L586.93,826.27 L585.81,827.5 L584.68,828.74 L583.53,829.98 L582.37,831.22 L581.19,832.46 L579.99,833.7 L578.78,834.95 L577.56,836.2 L576.31,837.45 L575.06,838.71 L573.78,839.97 L572.5,841.23 L571.19,842.49 L569.88,843.75 L568.55,845.02 L567.2,846.29 L565.84,847.56 L564.46,848.83 L563.07,850.1 L561.67,851.37 L560.25,852.65 L558.82,853.93 L557.37,855.2 L555.91,856.48 L554.44,857.76 L552.95,859.04 L551.45,860.32 L549.93,861.61 L548.4,862.89 L546.86,864.17 L545.31,865.45 L543.74,866.74 L542.16,868.02 L540.57,869.3 L538.96,870.59 L537.35,871.87 L535.72,873.15 L534.07,874.44 L532.42,875.72 L530.75,877 L529.08,878.28 L527.39,879.56 L525.69,880.84 L523.97,882.12 L522.25,883.4 L520.51,884.67 L518.77,885.95 L517.01,887.22 L515.24,888.49 L513.47,889.77 L511.68,891.03 L509.88,892.3 L508.07,893.57 L506.25,894.83 L504.42,896.09 L502.58,897.35 L500.73,898.61 L498.87,899.87 L497,901.12 L495.13,902.37 L493.24,903.62 L491.35,904.86 L489.44,906.11 L487.53,907.35 L485.61,908.58 L483.68,909.82 L481.74,911.05 L479.8,912.27 L477.84,913.5 L475.88,914.72 L473.91,915.94 L471.93,917.15 L469.95,918.36 L467.96,919.57 L465.96,920.77 L463.96,921.97 L461.94,923.16 L459.92,924.35 L457.9,925.54 L455.87,926.72 L453.83,927.89 L451.79,929.07 L449.74,930.23 L447.68,931.4 L445.62,932.56 L443.56,933.71 L441.49,934.86 L439.41,936 L437.33,937.14 L435.25,938.27 L433.16,939.4 L431.06,940.52 L428.96,941.64 L426.86,942.75 L424.76,943.86 L422.65,944.96 L420.53,946.05 L418.42,947.14 L416.29,948.22 L414.17,949.3 L412.04,950.37 L409.92,951.43 L407.78,952.49 L405.65,953.54 L403.51,954.59 L401.37,955.63 L399.23,956.66 L397.09,957.68 L394.95,958.7 L392.8,959.71 L390.66,960.72 L388.51,961.71 L386.36,962.7 L384.21,963.69 L382.06,964.66 L379.91,965.63 L377.76,966.59 L375.6,967.55 L373.45,968.49 L371.3,969.43 L369.15,970.36 L367,971.28 L364.85,972.2 L362.7,973.11 L360.55,974.01 L358.41,974.9 L356.26,975.78 L354.12,976.66 L351.98,977.52 L349.83,978.38 L347.7,979.23 L345.56,980.08 L343.43,980.91 L341.29,981.73 L339.16,982.55 L337.04,983.36 L334.91,984.16 L332.79,984.95 L330.68,985.73 L328.56,986.5 L326.45,987.26 L324.35,988.02 L322.24,988.76 L320.15,989.5 L318.05,990.23 L315.96,990.94 L313.88,991.65 L311.8,992.35 L309.72,993.04 L307.65,993.72 L305.58,994.39 L303.52,995.05 L301.47,995.7 L299.42,996.34 L297.38,996.98 L295.34,997.6 L293.31,998.21 L291.28,998.81 L289.27,999.41 L287.25,999.99 L285.25,1000.56 L283.25,1001.12 L281.26,1001.68 L279.28,1002.22 L277.3,1002.75 L275.33,1003.27 L273.37,1003.78 L271.41,1004.28 L269.47,1004.78 L267.53,1005.26 L265.6,1005.73 L263.68,1006.19 L261.77,1006.64 L259.86,1007.07 L257.97,1007.5 L256.08,1007.92 L254.2,1008.33 L252.34,1008.72 L250.48,1009.11 L248.63,1009.48 L246.79,1009.85 L244.96,1010.2 L243.14,1010.55 L241.33,1010.88 L239.53,1011.2 L237.74,1011.51 L235.96,1011.81 L234.2,1012.1 L232.44,1012.37 L230.69,1012.64 L228.96,1012.9 L227.24,1013.14 L225.52,1013.38 L223.82,1013.6 L222.13,1013.81 L220.45,1014.01 L218.79,1014.2 L217.13,1014.38 L215.49,1014.55 L213.86,1014.7 L212.24,1014.85 L210.64,1014.98 L209.05,1015.1 L207.47,1015.22 L205.9,1015.32 L204.35,1015.41 L202.81,1015.48 L201.28,1015.55 L199.76,1015.61 L198.26,1015.65 L196.77,1015.69 L195.3,1015.71 L193.84,1015.72 L192.39,1015.72 L190.96,1015.71 L189.54,1015.68 L188.14,1015.65 L186.75,1015.61 L185.37,1015.55 L184.01,1015.48 L182.66,1015.4 L181.33,1015.31 L180.01,1015.21 L178.71,1015.1 L177.42,1014.98 L176.15,1014.84 L174.9,1014.7 L173.65,1014.54 L172.43,1014.37 L171.22,1014.2 L170.02,1014.01 L168.84,1013.8 L167.68,1013.59 L166.53,1013.37 L165.4,1013.14 L164.28,1012.89 L163.18,1012.63 L162.1,1012.37 L161.03,1012.09 L159.98,1011.8 L158.94,1011.5 L157.93,1011.19 L156.92,1010.87 L155.94,1010.54 L154.97,1010.19 L154.02,1009.84 L153.08,1009.47 L152.17,1009.1 L151.27,1008.71 L150.38,1008.32 L149.52,1007.91 L148.67,1007.49 L147.83,1007.06 L147.02,1006.62 L146.22,1006.17 L145.44,1005.71 L144.68,1005.24 L143.94,1004.76 L143.21,1004.27 L142.5,1003.77 L141.81,1003.26 L141.13,1002.73 L140.48,1002.2 L139.84,1001.66 L139.22,1001.11 L138.62,1000.54 L138.03,999.97 L137.47,999.39 L136.92,998.8 L136.39,998.19 L135.88,997.58 L135.39,996.96 L134.91,996.33 L134.46,995.68 L134.02,995.03 L133.6,994.37 L133.2,993.7 L132.81,993.02 L132.45,992.33 L132.1,991.63 L131.78,990.92 L131.47,990.21 L131.18,989.48 L130.91,988.74 L130.65,988 L130.42,987.24 L130.2,986.48 L130.01,985.71 L129.83,984.92 L129.67,984.13 L129.53,983.33 L129.41,982.53 L129.3,981.71 L129.22,980.89 L129.15,980.05 L129.11,979.21 L129.08,978.36 L129.07,977.5 L129.08,976.63 L129.11,975.76 L129.15,974.87 L129.22,973.98 L129.3,973.08 L129.41,972.17 L129.53,971.26 L129.67,970.34 L129.83,969.4 L130.01,968.47 L130.2,967.52 L130.42,966.57 L130.65,965.6 L130.91,964.64 L131.18,963.66 L131.47,962.68 L131.78,961.69 L132.1,960.69 L132.45,959.68 L132.81,958.67 L133.2,957.65 L133.6,956.63 L134.02,955.6 L134.46,954.56 L134.91,953.51 L135.39,952.46 L135.88,951.4 L136.39,950.34 L136.92,949.27 L137.47,948.19 L138.03,947.11 L138.62,946.02 L139.22,944.93 L139.84,943.83 L140.48,942.72 L141.13,941.61 L141.81,940.49 L142.5,939.37 L143.21,938.24 L143.94,937.11 L144.68,935.97 L145.44,934.83 L146.22,933.68 L147.02,932.52 L147.83,931.37 L148.67,930.2 L149.52,929.03 L150.38,927.86 L151.27,926.68 L152.17,925.5 L153.08,924.32 L154.02,923.13 L154.97,921.93 L155.94,920.73 L156.92,919.53 L157.93,918.33 L158.94,917.12 L159.98,915.9 L161.03,914.69 L162.1,913.46 L163.18,912.24 L164.28,911.01 L165.4,909.78 L166.53,908.55 L167.68,907.31 L168.84,906.07 L170.02,904.83 L171.22,903.58 L172.43,902.34 L173.65,901.09 L174.9,899.83 L176.15,898.58 L177.42,897.32 L178.71,896.06 L180.01,894.8 L181.33,893.53 L182.66,892.27 L184.01,891 L185.37,889.73 L186.75,888.46 L188.14,887.19 L189.54,885.91 L190.96,884.64 L192.39,883.36 L193.84,882.08 L195.3,880.8 L196.77,879.53 L198.26,878.24 L199.76,876.96 L201.28,875.68 L202.81,874.4 L204.35,873.12 L205.9,871.83 L207.47,870.55 L209.05,869.27 L210.64,867.98 L212.24,866.7 L213.86,865.42 L215.49,864.13 L217.13,862.85 L218.79,861.57 L220.45,860.29 L222.13,859.01 L223.82,857.73 L225.52,856.45 L227.24,855.17 L228.96,853.89 L230.69,852.61 L232.44,851.34 L234.2,850.06 L235.96,848.79 L237.74,847.52 L239.53,846.25 L241.33,844.98 L243.14,843.72 L244.96,842.45 L246.79,841.19 L248.63,839.93 L250.48,838.68 L252.34,837.42 L254.2,836.17 L256.08,834.92 L257.97,833.67 L259.86,832.42 L261.77,831.18 L263.68,829.94 L265.6,828.7 L267.53,827.47 L269.47,826.24 L271.41,825.01 L273.37,823.79 L275.33,822.57 L277.3,821.35 L279.28,820.14 L281.26,818.93 L283.25,817.72 L285.25,816.52 L287.25,815.32 L289.27,814.13 L291.28,812.94 L293.31,811.75 L295.34,810.57 L297.38,809.39 L299.42,808.22 L301.47,807.05 L303.52,805.89 L305.58,804.73 L307.65,803.58 L309.72,802.43 L311.8,801.29 L313.88,800.15 L315.96,799.01 L318.05,797.89 L320.15,796.76 L322.24,795.65 L324.35,794.53 L326.45,793.43 L328.56,792.33 L330.68,791.23 L332.79,790.15 L334.91,789.06 L337.04,787.99 L339.16,786.92 L341.29,785.85 L343.43,784.8 L345.56,783.74 L347.7,782.7 L349.83,781.66 L351.98,780.63 L354.12,779.61 L356.26,778.59 L358.41,777.58 L360.55,776.57 L362.7,775.57 L364.85,774.58 L367,773.6 L369.15,772.62 L371.3,771.66 L373.45,770.69 L375.6,769.74Z" fill="none" stroke="#000000" stroke-width="3.6" stroke-linejoin="round"/>
<path d="M379.94,836.72 L382.08,835.09 L384.22,833.47 L386.36,831.85 L388.5,830.24 L390.64,828.63 L392.78,827.02 L394.92,825.41 L397.05,823.81 L399.19,822.22 L401.32,820.62 L403.45,819.03 L405.58,817.45 L407.71,815.87 L409.83,814.29 L411.96,812.72 L414.08,811.15 L416.2,809.59 L418.31,808.03 L420.42,806.48 L422.53,804.93 L424.64,803.39 L426.74,801.85 L428.84,800.32 L430.94,798.8 L433.03,797.28 L435.12,795.76 L437.2,794.26 L439.28,792.75 L441.35,791.26 L443.42,789.77 L445.49,788.29 L447.55,786.81 L449.6,785.34 L451.65,783.88 L453.69,782.42 L455.73,780.97 L457.77,779.53 L459.79,778.09 L461.81,776.67 L463.83,775.25 L465.84,773.83 L467.84,772.43 L469.83,771.03 L471.82,769.64 L473.8,768.26 L475.77,766.88 L477.74,765.52 L479.7,764.16 L481.65,762.81 L483.6,761.47 L485.53,760.14 L487.46,758.82 L489.38,757.5 L491.29,756.2 L493.19,754.9 L495.09,753.61 L496.97,752.33 L498.85,751.06 L500.72,749.8 L502.57,748.55 L504.42,747.31 L506.26,746.08 L508.09,744.86 L509.91,743.65 L511.72,742.45 L513.52,741.25 L515.31,740.07 L517.09,738.9 L518.86,737.74 L520.62,736.59 L522.37,735.45 L524.1,734.32 L525.83,733.2 L527.55,732.09 L529.25,730.99 L530.94,729.91 L532.62,728.83 L534.29,727.77 L535.95,726.71 L537.59,725.67 L539.23,724.64 L540.85,723.62 L542.46,722.61 L544.06,721.61 L545.64,720.63 L547.21,719.65 L548.77,718.69 L550.32,717.74 L551.85,716.8 L553.37,715.88 L554.88,714.96 L556.37,714.06 L557.85,713.17 L559.32,712.29 L560.77,711.43 L562.21,710.58 L563.63,709.74 L565.04,708.91 L566.44,708.09 L567.82,707.29 L569.19,706.5 L570.55,705.72 L571.89,704.96 L573.21,704.21 L574.52,703.47 L575.82,702.74 L577.1,702.03 L578.36,701.33 L579.61,700.64 L580.85,699.97 L582.07,699.31 L583.27,698.66 L584.46,698.03 L585.64,697.41 L586.8,696.8 L587.94,696.21 L589.06,695.63 L590.17,695.06 L591.27,694.51 L592.35,693.97 L593.41,693.45 L594.45,692.93 L595.48,692.44 L596.5,691.95 L597.49,691.48 L598.47,691.03 L599.44,690.58 L600.38,690.16 L601.31,689.74 L602.23,689.34 L603.12,688.96 L604,688.58 L604.86,688.23 L605.71,687.88 L606.54,687.55 L607.35,687.24 L608.14,686.94 L608.92,686.65 L609.67,686.38 L610.41,686.12 L611.14,685.87 L611.84,685.64 L612.53,685.43 L613.2,685.23 L613.85,685.04 L614.49,684.87 L615.11,684.71 L615.7,684.57 L616.29,684.44 L616.85,684.32 L617.39,684.22 L617.92,684.14 L618.43,684.06 L618.92,684.01 L619.39,683.97 L619.85,683.94 L620.28,683.92 L620.7,683.92 L621.1,683.94 L621.48,683.97 L621.84,684.01 L622.19,684.07 L622.51,684.15 L622.82,684.23 L623.11,684.34 L623.38,684.45 L623.63,684.58 L623.86,684.73 L624.08,684.89 L624.27,685.06 L624.45,685.25 L624.61,685.45 L624.75,685.67 L624.87,685.9 L624.97,686.15 L625.06,686.41 L625.12,686.68 L625.17,686.97 L625.2,687.27 L625.21,687.59 L625.2,687.92 L625.17,688.27 L625.12,688.63 L625.06,689 L624.97,689.39 L624.87,689.79 L624.75,690.21 L624.61,690.64 L624.45,691.08 L624.27,691.54 L624.08,692.01 L623.86,692.5 L623.63,693 L623.38,693.51 L623.11,694.04 L622.82,694.58 L622.51,695.13 L622.19,695.7 L621.84,696.28 L621.48,696.87 L621.1,697.48 L620.7,698.1 L620.28,698.74 L619.85,699.39 L619.39,700.05 L618.92,700.72 L618.43,701.41 L617.92,702.11 L617.39,702.83 L616.85,703.56 L616.29,704.3 L615.7,705.05 L615.11,705.82 L614.49,706.6 L613.85,707.39 L613.2,708.19 L612.53,709.01 L611.84,709.84 L611.14,710.68 L610.41,711.53 L609.67,712.4 L608.92,713.28 L608.14,714.17 L607.35,715.08 L606.54,715.99 L605.71,716.92 L604.86,717.86 L604,718.81 L603.12,719.77 L602.23,720.75 L601.31,721.74 L600.38,722.73 L599.44,723.74 L598.47,724.76 L597.49,725.8 L596.5,726.84 L595.48,727.9 L594.45,728.96 L593.41,730.04 L592.35,731.13 L591.27,732.23 L590.17,733.34 L589.06,734.46 L587.94,735.59 L586.8,736.73 L585.64,737.88 L584.46,739.04 L583.27,740.22 L582.07,741.4 L580.85,742.59 L579.61,743.8 L578.36,745.01 L577.1,746.23 L575.82,747.46 L574.52,748.71 L573.21,749.96 L571.89,751.22 L570.55,752.49 L569.19,753.77 L567.82,755.06 L566.44,756.36 L565.04,757.66 L563.63,758.98 L562.21,760.3 L560.77,761.64 L559.32,762.98 L557.85,764.33 L556.37,765.69 L554.88,767.05 L553.37,768.43 L551.85,769.81 L550.32,771.2 L548.77,772.6 L547.21,774 L545.64,775.42 L544.06,776.84 L542.46,778.27 L540.85,779.7 L539.23,781.15 L537.59,782.6 L535.95,784.06 L534.29,785.52 L532.62,786.99 L530.94,788.47 L529.25,789.95 L527.55,791.44 L525.83,792.94 L524.1,794.44 L522.37,795.95 L520.62,797.46 L518.86,798.98 L517.09,800.51 L515.31,802.04 L513.52,803.58 L511.72,805.12 L509.91,806.67 L508.09,808.22 L506.26,809.78 L504.42,811.34 L502.57,812.91 L500.72,814.48 L498.85,816.06 L496.97,817.64 L495.09,819.23 L493.19,820.82 L491.29,822.41 L489.38,824.01 L487.46,825.61 L485.53,827.21 L483.6,828.82 L481.65,830.44 L479.7,832.05 L477.74,833.67 L475.77,835.29 L473.8,836.92 L471.82,838.54 L469.83,840.17 L467.84,841.81 L465.84,843.44 L463.83,845.08 L461.81,846.72 L459.79,848.36 L457.77,850 L455.73,851.65 L453.69,853.3 L451.65,854.94 L449.6,856.59 L447.55,858.25 L445.49,859.9 L443.42,861.55 L441.35,863.21 L439.28,864.86 L437.2,866.52 L435.12,868.17 L433.03,869.83 L430.94,871.49 L428.84,873.15 L426.74,874.8 L424.64,876.46 L422.53,878.12 L420.42,879.78 L418.31,881.43 L416.2,883.09 L414.08,884.74 L411.96,886.4 L409.83,888.05 L407.71,889.7 L405.58,891.36 L403.45,893.01 L401.32,894.65 L399.19,896.3 L397.05,897.95 L394.92,899.59 L392.78,901.23 L390.64,902.87 L388.5,904.51 L386.36,906.14 L384.22,907.77 L382.08,909.4 L379.94,911.03 L377.8,912.65 L375.66,914.28 L373.52,915.89 L371.38,917.51 L369.24,919.12 L367.11,920.73 L364.97,922.33 L362.83,923.93 L360.7,925.53 L358.57,927.12 L356.44,928.71 L354.31,930.3 L352.18,931.88 L350.05,933.46 L347.93,935.03 L345.81,936.59 L343.69,938.16 L341.58,939.71 L339.46,941.27 L337.35,942.81 L335.25,944.36 L333.14,945.89 L331.05,947.42 L328.95,948.95 L326.86,950.47 L324.77,951.98 L322.69,953.49 L320.61,954.99 L318.53,956.49 L316.46,957.98 L314.4,959.46 L312.34,960.94 L310.28,962.41 L308.24,963.87 L306.19,965.33 L304.15,966.78 L302.12,968.22 L300.09,969.65 L298.07,971.08 L296.06,972.5 L294.05,973.91 L292.05,975.32 L290.05,976.72 L288.07,978.11 L286.09,979.49 L284.11,980.86 L282.14,982.23 L280.19,983.59 L278.23,984.93 L276.29,986.28 L274.35,987.61 L272.43,988.93 L270.51,990.25 L268.6,991.55 L266.69,992.85 L264.8,994.14 L262.91,995.41 L261.04,996.68 L259.17,997.94 L257.31,999.19 L255.46,1000.43 L253.62,1001.67 L251.79,1002.89 L249.97,1004.1 L248.16,1005.3 L246.36,1006.49 L244.57,1007.67 L242.79,1008.85 L241.02,1010.01 L239.27,1011.16 L237.52,1012.3 L235.78,1013.43 L234.06,1014.55 L232.34,1015.66 L230.64,1016.75 L228.94,1017.84 L227.26,1018.92 L225.59,1019.98 L223.94,1021.03 L222.29,1022.08 L220.66,1023.11 L219.04,1024.13 L217.43,1025.14 L215.83,1026.13 L214.25,1027.12 L212.67,1028.09 L211.12,1029.05 L209.57,1030 L208.04,1030.94 L206.52,1031.87 L205.01,1032.78 L203.52,1033.68 L202.04,1034.57 L200.57,1035.45 L199.12,1036.32 L197.68,1037.17 L196.25,1038.01 L194.84,1038.84 L193.44,1039.65 L192.06,1040.46 L190.69,1041.25 L189.34,1042.03 L188,1042.79 L186.67,1043.54 L185.36,1044.28 L184.07,1045.01 L182.79,1045.72 L181.52,1046.42 L180.27,1047.11 L179.04,1047.78 L177.82,1048.44 L176.61,1049.09 L175.42,1049.72 L174.25,1050.34 L173.09,1050.95 L171.95,1051.54 L170.82,1052.12 L169.71,1052.69 L168.62,1053.24 L167.54,1053.78 L166.48,1054.3 L165.43,1054.81 L164.4,1055.31 L163.39,1055.79 L162.39,1056.26 L161.41,1056.72 L160.45,1057.16 L159.5,1057.59 L158.57,1058.01 L157.66,1058.41 L156.76,1058.79 L155.88,1059.16 L155.02,1059.52 L154.18,1059.87 L153.35,1060.19 L152.54,1060.51 L151.75,1060.81 L150.97,1061.1 L150.21,1061.37 L149.47,1061.63 L148.75,1061.87 L148.04,1062.1 L147.35,1062.32 L146.68,1062.52 L146.03,1062.71 L145.4,1062.88 L144.78,1063.04 L144.18,1063.18 L143.6,1063.31 L143.04,1063.42 L142.49,1063.53 L141.97,1063.61 L141.46,1063.68 L140.97,1063.74 L140.49,1063.78 L140.04,1063.81 L139.6,1063.82 L139.19,1063.82 L138.79,1063.81 L138.41,1063.78 L138.04,1063.73 L137.7,1063.67 L137.37,1063.6 L137.07,1063.51 L136.78,1063.41 L136.51,1063.29 L136.26,1063.16 L136.02,1063.02 L135.81,1062.86 L135.61,1062.68 L135.44,1062.5 L135.28,1062.29 L135.14,1062.08 L135.02,1061.84 L134.91,1061.6 L134.83,1061.34 L134.76,1061.06 L134.72,1060.78 L134.69,1060.47 L134.68,1060.16 L134.69,1059.82 L134.72,1059.48 L134.76,1059.12 L134.83,1058.74 L134.91,1058.36 L135.02,1057.96 L135.14,1057.54 L135.28,1057.11 L135.44,1056.67 L135.61,1056.21 L135.81,1055.74 L136.02,1055.25 L136.26,1054.75 L136.51,1054.24 L136.78,1053.71 L137.07,1053.17 L137.37,1052.62 L137.7,1052.05 L138.04,1051.47 L138.41,1050.87 L138.79,1050.26 L139.19,1049.64 L139.6,1049.01 L140.04,1048.36 L140.49,1047.7 L140.97,1047.02 L141.46,1046.33 L141.97,1045.63 L142.49,1044.92 L143.04,1044.19 L143.6,1043.45 L144.18,1042.7 L144.78,1041.93 L145.4,1041.15 L146.03,1040.36 L146.68,1039.56 L147.35,1038.74 L148.04,1037.91 L148.75,1037.07 L149.47,1036.21 L150.21,1035.35 L150.97,1034.47 L151.75,1033.58 L152.54,1032.67 L153.35,1031.76 L154.18,1030.83 L155.02,1029.89 L155.88,1028.94 L156.76,1027.97 L157.66,1027 L158.57,1026.01 L159.5,1025.01 L160.45,1024 L161.41,1022.98 L162.39,1021.95 L163.39,1020.91 L164.4,1019.85 L165.43,1018.78 L166.48,1017.71 L167.54,1016.62 L168.62,1015.52 L169.71,1014.41 L170.82,1013.29 L171.95,1012.16 L173.09,1011.02 L174.25,1009.87 L175.42,1008.7 L176.61,1007.53 L177.82,1006.35 L179.04,1005.15 L180.27,1003.95 L181.52,1002.74 L182.79,1001.52 L184.07,1000.28 L185.36,999.04 L186.67,997.79 L188,996.53 L189.34,995.26 L190.69,993.98 L192.06,992.69 L193.44,991.39 L194.84,990.08 L196.25,988.77 L197.68,987.44 L199.12,986.11 L200.57,984.77 L202.04,983.42 L203.52,982.06 L205.01,980.7 L206.52,979.32 L208.04,977.94 L209.57,976.55 L211.12,975.15 L212.67,973.74 L214.25,972.33 L215.83,970.91 L217.43,969.48 L219.04,968.04 L220.66,966.6 L222.29,965.15 L223.94,963.69 L225.59,962.23 L227.26,960.76 L228.94,959.28 L230.64,957.8 L232.34,956.31 L234.06,954.81 L235.78,953.31 L237.52,951.8 L239.27,950.28 L241.02,948.76 L242.79,947.24 L244.57,945.7 L246.36,944.17 L248.16,942.62 L249.97,941.08 L251.79,939.52 L253.62,937.97 L255.46,936.4 L257.31,934.84 L259.17,933.26 L261.04,931.69 L262.91,930.11 L264.8,928.52 L266.69,926.93 L268.6,925.34 L270.51,923.74 L272.43,922.14 L274.35,920.53 L276.29,918.92 L278.23,917.31 L280.19,915.7 L282.14,914.08 L284.11,912.46 L286.09,910.83 L288.07,909.2 L290.05,907.57 L292.05,905.94 L294.05,904.31 L296.06,902.67 L298.07,901.03 L300.09,899.39 L302.12,897.74 L304.15,896.1 L306.19,894.45 L308.24,892.8 L310.28,891.15 L312.34,889.5 L314.4,887.85 L316.46,886.2 L318.53,884.54 L320.61,882.89 L322.69,881.23 L324.77,879.57 L326.86,877.92 L328.95,876.26 L331.05,874.6 L333.14,872.94 L335.25,871.29 L337.35,869.63 L339.46,867.97 L341.58,866.31 L343.69,864.66 L345.81,863 L347.93,861.35 L350.05,859.7 L352.18,858.04 L354.31,856.39 L356.44,854.74 L358.57,853.09 L360.7,851.45 L362.83,849.8 L364.97,848.16 L367.11,846.52 L369.24,844.88 L371.38,843.24 L373.52,841.61 L375.66,839.97 L377.8,838.34 L379.94,836.72Z" fill="none" stroke="#0e68b0" stroke-width="3.6" stroke-linejoin="round"/>
<path d="M375.09,810.75 L377.24,809.43 L379.39,808.12 L381.54,806.81 L383.69,805.51 L385.83,804.22 L387.98,802.92 L390.13,801.64 L392.27,800.36 L394.41,799.08 L396.55,797.81 L398.69,796.55 L400.83,795.29 L402.97,794.04 L405.1,792.79 L407.24,791.55 L409.36,790.32 L411.49,789.09 L413.62,787.87 L415.74,786.66 L417.85,785.45 L419.97,784.25 L422.08,783.06 L424.19,781.87 L426.29,780.69 L428.39,779.52 L430.49,778.35 L432.58,777.19 L434.67,776.04 L436.75,774.9 L438.83,773.76 L440.9,772.63 L442.97,771.51 L445.03,770.4 L447.09,769.3 L449.14,768.2 L451.19,767.11 L453.23,766.03 L455.27,764.95 L457.29,763.89 L459.32,762.83 L461.33,761.79 L463.34,760.75 L465.35,759.72 L467.34,758.69 L469.33,757.68 L471.31,756.68 L473.29,755.68 L475.25,754.69 L477.21,753.72 L479.16,752.75 L481.11,751.79 L483.04,750.84 L484.97,749.9 L486.89,748.97 L488.8,748.05 L490.7,747.13 L492.6,746.23 L494.48,745.34 L496.35,744.45 L498.22,743.58 L500.08,742.72 L501.92,741.87 L503.76,741.02 L505.59,740.19 L507.41,739.37 L509.21,738.55 L511.01,737.75 L512.8,736.96 L514.57,736.18 L516.34,735.41 L518.09,734.64 L519.84,733.89 L521.57,733.16 L523.29,732.43 L525,731.71 L526.7,731 L528.39,730.3 L530.07,729.62 L531.73,728.94 L533.38,728.28 L535.02,727.63 L536.65,726.99 L538.27,726.36 L539.87,725.74 L541.46,725.13 L543.04,724.53 L544.6,723.95 L546.16,723.38 L547.7,722.81 L549.22,722.26 L550.73,721.72 L552.23,721.2 L553.72,720.68 L555.19,720.18 L556.65,719.68 L558.1,719.2 L559.53,718.73 L560.94,718.28 L562.35,717.83 L563.74,717.4 L565.11,716.98 L566.47,716.57 L567.81,716.17 L569.15,715.78 L570.46,715.41 L571.76,715.05 L573.05,714.7 L574.32,714.36 L575.57,714.03 L576.81,713.72 L578.04,713.42 L579.25,713.13 L580.44,712.85 L581.62,712.59 L582.78,712.34 L583.93,712.1 L585.06,711.87 L586.18,711.65 L587.27,711.45 L588.36,711.26 L589.42,711.08 L590.47,710.92 L591.51,710.76 L592.52,710.62 L593.52,710.49 L594.51,710.38 L595.48,710.27 L596.43,710.18 L597.36,710.1 L598.28,710.04 L599.18,709.98 L600.06,709.94 L600.92,709.91 L601.77,709.9 L602.6,709.89 L603.42,709.9 L604.21,709.92 L604.99,709.95 L605.75,710 L606.5,710.06 L607.22,710.13 L607.93,710.21 L608.62,710.31 L609.3,710.42 L609.95,710.54 L610.59,710.67 L611.21,710.81 L611.81,710.97 L612.39,711.14 L612.96,711.32 L613.51,711.52 L614.03,711.73 L614.54,711.95 L615.04,712.18 L615.51,712.42 L615.97,712.68 L616.41,712.95 L616.82,713.23 L617.23,713.52 L617.61,713.83 L617.97,714.14 L618.32,714.47 L618.64,714.81 L618.95,715.17 L619.24,715.53 L619.51,715.91 L619.77,716.3 L620,716.7 L620.22,717.12 L620.41,717.54 L620.59,717.98 L620.75,718.43 L620.89,718.89 L621.01,719.36 L621.11,719.85 L621.2,720.35 L621.26,720.85 L621.31,721.37 L621.34,721.91 L621.35,722.45 L621.34,723 L621.31,723.57 L621.26,724.15 L621.2,724.74 L621.11,725.34 L621.01,725.95 L620.89,726.57 L620.75,727.2 L620.59,727.85 L620.41,728.5 L620.22,729.17 L620,729.85 L619.77,730.54 L619.51,731.24 L619.24,731.95 L618.95,732.67 L618.64,733.4 L618.32,734.15 L617.97,734.9 L617.61,735.67 L617.23,736.44 L616.82,737.23 L616.41,738.02 L615.97,738.83 L615.51,739.64 L615.04,740.47 L614.54,741.31 L614.03,742.15 L613.51,743.01 L612.96,743.88 L612.39,744.75 L611.81,745.64 L611.21,746.53 L610.59,747.44 L609.95,748.36 L609.3,749.28 L608.62,750.22 L607.93,751.16 L607.22,752.11 L606.5,753.07 L605.75,754.05 L604.99,755.03 L604.21,756.02 L603.42,757.01 L602.6,758.02 L601.77,759.04 L600.92,760.06 L600.06,761.1 L599.18,762.14 L598.28,763.19 L597.36,764.25 L596.43,765.32 L595.48,766.39 L594.51,767.48 L593.52,768.57 L592.52,769.67 L591.51,770.78 L590.47,771.89 L589.42,773.02 L588.36,774.15 L587.27,775.29 L586.18,776.43 L585.06,777.58 L583.93,778.75 L582.78,779.91 L581.62,781.09 L580.44,782.27 L579.25,783.46 L578.04,784.66 L576.81,785.86 L575.57,787.07 L574.32,788.29 L573.05,789.51 L571.76,790.74 L570.46,791.97 L569.15,793.21 L567.81,794.46 L566.47,795.72 L565.11,796.98 L563.74,798.24 L562.35,799.51 L560.94,800.79 L559.53,802.07 L558.1,803.36 L556.65,804.65 L555.19,805.95 L553.72,807.26 L552.23,808.56 L550.73,809.88 L549.22,811.2 L547.7,812.52 L546.16,813.85 L544.6,815.18 L543.04,816.52 L541.46,817.86 L539.87,819.2 L538.27,820.55 L536.65,821.91 L535.02,823.27 L533.38,824.63 L531.73,825.99 L530.07,827.36 L528.39,828.73 L526.7,830.11 L525,831.49 L523.29,832.87 L521.57,834.26 L519.84,835.65 L518.09,837.04 L516.34,838.43 L514.57,839.83 L512.8,841.23 L511.01,842.63 L509.21,844.03 L507.41,845.44 L505.59,846.85 L503.76,848.26 L501.92,849.67 L500.08,851.09 L498.22,852.5 L496.35,853.92 L494.48,855.34 L492.6,856.76 L490.7,858.18 L488.8,859.61 L486.89,861.03 L484.97,862.45 L483.04,863.88 L481.11,865.31 L479.16,866.74 L477.21,868.16 L475.25,869.59 L473.29,871.02 L471.31,872.45 L469.33,873.88 L467.34,875.31 L465.35,876.74 L463.34,878.16 L461.33,879.59 L459.32,881.02 L457.29,882.45 L455.27,883.87 L453.23,885.3 L451.19,886.72 L449.14,888.15 L447.09,889.57 L445.03,890.99 L442.97,892.41 L440.9,893.83 L438.83,895.25 L436.75,896.66 L434.67,898.08 L432.58,899.49 L430.49,900.9 L428.39,902.31 L426.29,903.71 L424.19,905.12 L422.08,906.52 L419.97,907.92 L417.85,909.31 L415.74,910.71 L413.62,912.1 L411.49,913.48 L409.36,914.87 L407.24,916.25 L405.1,917.63 L402.97,919 L400.83,920.37 L398.69,921.74 L396.55,923.11 L394.41,924.47 L392.27,925.82 L390.13,927.17 L387.98,928.52 L385.83,929.87 L383.69,931.21 L381.54,932.54 L379.39,933.87 L377.24,935.2 L375.09,936.52 L372.94,937.84 L370.79,939.15 L368.65,940.46 L366.5,941.76 L364.35,943.06 L362.2,944.35 L360.06,945.63 L357.91,946.91 L355.77,948.19 L353.63,949.46 L351.49,950.72 L349.35,951.98 L347.22,953.23 L345.08,954.48 L342.95,955.72 L340.82,956.95 L338.69,958.18 L336.57,959.4 L334.45,960.61 L332.33,961.82 L330.22,963.02 L328.1,964.21 L326,965.4 L323.89,966.58 L321.79,967.75 L319.7,968.92 L317.6,970.08 L315.52,971.23 L313.43,972.37 L311.36,973.51 L309.28,974.64 L307.21,975.76 L305.15,976.87 L303.09,977.98 L301.04,979.07 L298.99,980.16 L296.95,981.24 L294.92,982.32 L292.89,983.38 L290.87,984.44 L288.85,985.49 L286.84,986.53 L284.84,987.56 L282.84,988.58 L280.85,989.59 L278.87,990.6 L276.9,991.59 L274.93,992.58 L272.97,993.56 L271.02,994.52 L269.08,995.48 L267.14,996.43 L265.21,997.37 L263.29,998.31 L261.38,999.23 L259.48,1000.14 L257.59,1001.04 L255.7,1001.93 L253.83,1002.82 L251.96,1003.69 L250.11,1004.55 L248.26,1005.41 L246.42,1006.25 L244.6,1007.08 L242.78,1007.91 L240.97,1008.72 L239.17,1009.52 L237.39,1010.31 L235.61,1011.1 L233.84,1011.87 L232.09,1012.63 L230.35,1013.38 L228.61,1014.12 L226.89,1014.85 L225.18,1015.56 L223.48,1016.27 L221.79,1016.97 L220.12,1017.65 L218.45,1018.33 L216.8,1018.99 L215.16,1019.64 L213.53,1020.28 L211.92,1020.91 L210.31,1021.53 L208.72,1022.14 L207.15,1022.74 L205.58,1023.32 L204.03,1023.9 L202.49,1024.46 L200.96,1025.01 L199.45,1025.55 L197.95,1026.08 L196.46,1026.59 L194.99,1027.1 L193.53,1027.59 L192.09,1028.07 L190.66,1028.54 L189.24,1029 L187.84,1029.44 L186.45,1029.87 L185.07,1030.3 L183.71,1030.71 L182.37,1031.1 L181.04,1031.49 L179.72,1031.86 L178.42,1032.23 L177.14,1032.58 L175.87,1032.91 L174.61,1033.24 L173.37,1033.55 L172.15,1033.85 L170.94,1034.14 L169.74,1034.42 L168.56,1034.68 L167.4,1034.93 L166.25,1035.17 L165.12,1035.4 L164.01,1035.62 L162.91,1035.82 L161.83,1036.01 L160.76,1036.19 L159.71,1036.36 L158.68,1036.51 L157.66,1036.65 L156.66,1036.78 L155.68,1036.89 L154.71,1037 L153.76,1037.09 L152.82,1037.17 L151.91,1037.24 L151.01,1037.29 L150.13,1037.33 L149.26,1037.36 L148.41,1037.38 L147.58,1037.38 L146.77,1037.37 L145.97,1037.35 L145.19,1037.32 L144.43,1037.27 L143.69,1037.21 L142.96,1037.14 L142.25,1037.06 L141.56,1036.96 L140.89,1036.86 L140.23,1036.74 L139.6,1036.6 L138.98,1036.46 L138.37,1036.3 L137.79,1036.13 L137.23,1035.95 L136.68,1035.75 L136.15,1035.55 L135.64,1035.33 L135.15,1035.1 L134.67,1034.85 L134.22,1034.59 L133.78,1034.33 L133.36,1034.05 L132.96,1033.75 L132.58,1033.45 L132.21,1033.13 L131.87,1032.8 L131.54,1032.46 L131.23,1032.1 L130.94,1031.74 L130.67,1031.36 L130.42,1030.97 L130.18,1030.57 L129.97,1030.16 L129.77,1029.73 L129.59,1029.29 L129.44,1028.84 L129.29,1028.38 L129.17,1027.91 L129.07,1027.42 L128.99,1026.93 L128.92,1026.42 L128.87,1025.9 L128.84,1025.37 L128.84,1024.82 L128.84,1024.27 L128.87,1023.7 L128.92,1023.13 L128.99,1022.54 L129.07,1021.94 L129.17,1021.33 L129.29,1020.7 L129.44,1020.07 L129.59,1019.42 L129.77,1018.77 L129.97,1018.1 L130.18,1017.42 L130.42,1016.73 L130.67,1016.03 L130.94,1015.32 L131.23,1014.6 L131.54,1013.87 L131.87,1013.13 L132.21,1012.37 L132.58,1011.61 L132.96,1010.83 L133.36,1010.05 L133.78,1009.25 L134.22,1008.45 L134.67,1007.63 L135.15,1006.8 L135.64,1005.97 L136.15,1005.12 L136.68,1004.26 L137.23,1003.4 L137.79,1002.52 L138.37,1001.63 L138.98,1000.74 L139.6,999.83 L140.23,998.92 L140.89,997.99 L141.56,997.06 L142.25,996.11 L142.96,995.16 L143.69,994.2 L144.43,993.23 L145.19,992.25 L145.97,991.26 L146.77,990.26 L147.58,989.25 L148.41,988.23 L149.26,987.21 L150.13,986.18 L151.01,985.13 L151.91,984.08 L152.82,983.02 L153.76,981.96 L154.71,980.88 L155.68,979.8 L156.66,978.7 L157.66,977.6 L158.68,976.5 L159.71,975.38 L160.76,974.26 L161.83,973.13 L162.91,971.99 L164.01,970.84 L165.12,969.69 L166.25,968.53 L167.4,967.36 L168.56,966.18 L169.74,965 L170.94,963.81 L172.15,962.62 L173.37,961.41 L174.61,960.2 L175.87,958.99 L177.14,957.76 L178.42,956.53 L179.72,955.3 L181.04,954.06 L182.37,952.81 L183.71,951.56 L185.07,950.3 L186.45,949.03 L187.84,947.76 L189.24,946.48 L190.66,945.2 L192.09,943.91 L193.53,942.62 L194.99,941.32 L196.46,940.02 L197.95,938.71 L199.45,937.39 L200.96,936.08 L202.49,934.75 L204.03,933.42 L205.58,932.09 L207.15,930.75 L208.72,929.41 L210.31,928.07 L211.92,926.72 L213.53,925.36 L215.16,924.01 L216.8,922.64 L218.45,921.28 L220.12,919.91 L221.79,918.54 L223.48,917.16 L225.18,915.78 L226.89,914.4 L228.61,913.01 L230.35,911.63 L232.09,910.24 L233.84,908.84 L235.61,907.44 L237.39,906.04 L239.17,904.64 L240.97,903.24 L242.78,901.83 L244.6,900.42 L246.42,899.01 L248.26,897.6 L250.11,896.19 L251.96,894.77 L253.83,893.35 L255.7,891.93 L257.59,890.51 L259.48,889.09 L261.38,887.67 L263.29,886.24 L265.21,884.82 L267.14,883.39 L269.08,881.96 L271.02,880.54 L272.97,879.11 L274.93,877.68 L276.9,876.25 L278.87,874.82 L280.85,873.39 L282.84,871.97 L284.84,870.54 L286.84,869.11 L288.85,867.68 L290.87,866.25 L292.89,864.83 L294.92,863.4 L296.95,861.97 L298.99,860.55 L301.04,859.12 L303.09,857.7 L305.15,856.28 L307.21,854.86 L309.28,853.44 L311.36,852.02 L313.43,850.61 L315.52,849.19 L317.6,847.78 L319.7,846.37 L321.79,844.96 L323.89,843.56 L326,842.15 L328.1,840.75 L330.22,839.36 L332.33,837.96 L334.45,836.57 L336.57,835.18 L338.69,833.79 L340.82,832.4 L342.95,831.02 L345.08,829.64 L347.22,828.27 L349.35,826.9 L351.49,825.53 L353.63,824.17 L355.77,822.81 L357.91,821.45 L360.06,820.1 L362.2,818.75 L364.35,817.41 L366.5,816.07 L368.65,814.73 L370.79,813.4 L372.94,812.07 L375.09,810.75Z" fill="none" stroke="#ff0000" stroke-width="3.6" stroke-linejoin="round"/>
<rect x="88.6" y="634.4" width="591.9" height="476.9" fill="none" stroke="#000" stroke-width="2"/>
<path d="M88.6,1087.45 h9.5 M88.6,1051.69 h5 M88.6,1015.92 h9.5 M88.6,980.15 h5 M88.6,944.38 h9.5 M88.6,908.62 h5 M88.6,872.85 h9.5 M88.6,837.08 h5 M88.6,801.31 h9.5 M88.6,765.55 h5 M88.6,729.78 h9.5 M88.6,694.01 h5 M88.6,658.25 h9.5 M137.92,1111.3 v-9.5 M199.58,1111.3 v-5 M261.24,1111.3 v-9.5 M322.89,1111.3 v-5 M384.55,1111.3 v-9.5 M446.21,1111.3 v-5 M507.86,1111.3 v-9.5 M569.52,1111.3 v-5 M631.17,1111.3 v-9.5" stroke="#000" stroke-width="2" fill="none"/>
<text x="77.6" y="1096.05" text-anchor="end" style="font-family:&quot;Liberation Serif&quot;,serif;font-size:26px">-135</text>
<text x="77.6" y="1024.52" text-anchor="end" style="font-family:&quot;Liberation Serif&quot;,serif;font-size:26px">-90</text>
<text x="77.6" y="952.99" text-anchor="end" style="font-family:&quot;Liberation Serif&quot;,serif;font-size:26px">-45</text>
<text x="77.6" y="881.45" text-anchor="end" style="font-family:&quot;Liberation Serif&quot;,serif;font-size:26px">0</text>
<text x="77.6" y="809.91" text-anchor="end" style="font-family:&quot;Liberation Serif&quot;,serif;font-size:26px">45</text>
<text x="77.6" y="738.38" text-anchor="end" style="font-family:&quot;Liberation Serif&quot;,serif;font-size:26px">90</text>
<text x="77.6" y="666.85" text-anchor="end" style="font-family:&quot;Liberation Serif&quot;,serif;font-size:26px">135</text>
<text transform="translate(137.92,1143.4) scale(1,1.035)" text-anchor="middle" style="font-family:&quot;Liberation Sans&quot;,sans-serif;font-size:26.6px">-5.0</text>
<text transform="translate(261.24,1143.4) scale(1,1.035)" text-anchor="middle" style="font-family:&quot;Liberation Sans&quot;,sans-serif;font-size:26.6px">-2.5</text>
<text transform="translate(384.55,1143.4) scale(1,1.035)" text-anchor="middle" style="font-family:&quot;Liberation Sans&quot;,sans-serif;font-size:26.6px">0.0</text>
<text transform="translate(507.86,1143.4) scale(1,1.035)" text-anchor="middle" style="font-family:&quot;Liberation Sans&quot;,sans-serif;font-size:26.6px">2.5</text>
<text transform="translate(631.17,1143.4) scale(1,1.035)" text-anchor="middle" style="font-family:&quot;Liberation Sans&quot;,sans-serif;font-size:26.6px">5.0</text>
<text transform="translate(384.6,1188.3) scale(1,1.05)" text-anchor="middle" style="font-family:&quot;Liberation Sans&quot;,sans-serif;font-size:26.9px">Displacement (μm)</text>
<text transform="translate(26.4,872.5) rotate(-90)" text-anchor="middle" style="font-family:&quot;Liberation Sans&quot;,sans-serif;font-size:26.8px">Force (N)</text>
<rect x="113.5" y="645.4" width="363" height="69.9" fill="#fff" stroke="#4a4a4a" stroke-width="1.3"/>
<text x="116.6" y="673.5" style="font-family:&quot;Liberation Sans&quot;,sans-serif;font-size:27px">Excitation frequency 100Hz</text>
<text x="116.6" y="706.1" style="font-family:&quot;Liberation Sans&quot;,sans-serif;font-size:27px">Diaphragms thickness 0.5mm</text>
<rect x="112.4" y="733.7" width="130.3" height="37.1" fill="#fff" stroke="#4a4a4a" stroke-width="1.3"/>
<text x="116" y="761" style="font-family:&quot;Liberation Sans&quot;,sans-serif;font-size:27px">Moudle</text>
<path d="M213.2,741.6 h6.6 v1.2 h-2.25 v17.4 h2.25 v1.2 h-6.6 v-1.2 h2.25 v-17.4 h-2.25 Z M222,741.6 h6.6 v1.2 h-2.25 v17.4 h2.25 v1.2 h-6.6 v-1.2 h2.25 v-17.4 h-2.25 Z M230.8,741.6 h6.6 v1.2 h-2.25 v17.4 h2.25 v1.2 h-6.6 v-1.2 h2.25 v-17.4 h-2.25 Z" fill="#1a1a1a"/>
<rect x="348.6" y="990" width="323.2" height="103.1" fill="#fff" stroke="#4a4a4a" stroke-width="1.3"/>
<line x1="352" x2="411.5" y1="1008.6" y2="1008.6" stroke="#000000" stroke-width="3.5" stroke-linecap="round"/>
<text x="419.6" y="1017.8" style="font-family:&quot;Liberation Sans&quot;,sans-serif;font-size:27px">Viscosity 500mm²/s</text>
<line x1="352" x2="411.5" y1="1041.6" y2="1041.6" stroke="#ff0000" stroke-width="3.5" stroke-linecap="round"/>
<text x="419.6" y="1050.8" style="font-family:&quot;Liberation Sans&quot;,sans-serif;font-size:27px">Viscosity 1000mm²/s</text>
<line x1="352" x2="411.5" y1="1074.6" y2="1074.6" stroke="#0e68b0" stroke-width="3.5" stroke-linecap="round"/>
<text x="419.6" y="1083.8" style="font-family:&quot;Liberation Sans&quot;,sans-serif;font-size:27px">Viscosity 2000mm²/s</text>
<text x="48.4" y="1229.6" style="font-family:&quot;Liberation Serif&quot;,serif;font-size:36.05px">(b) Excitation force versus displacement</text>
</svg>
</body></html>
